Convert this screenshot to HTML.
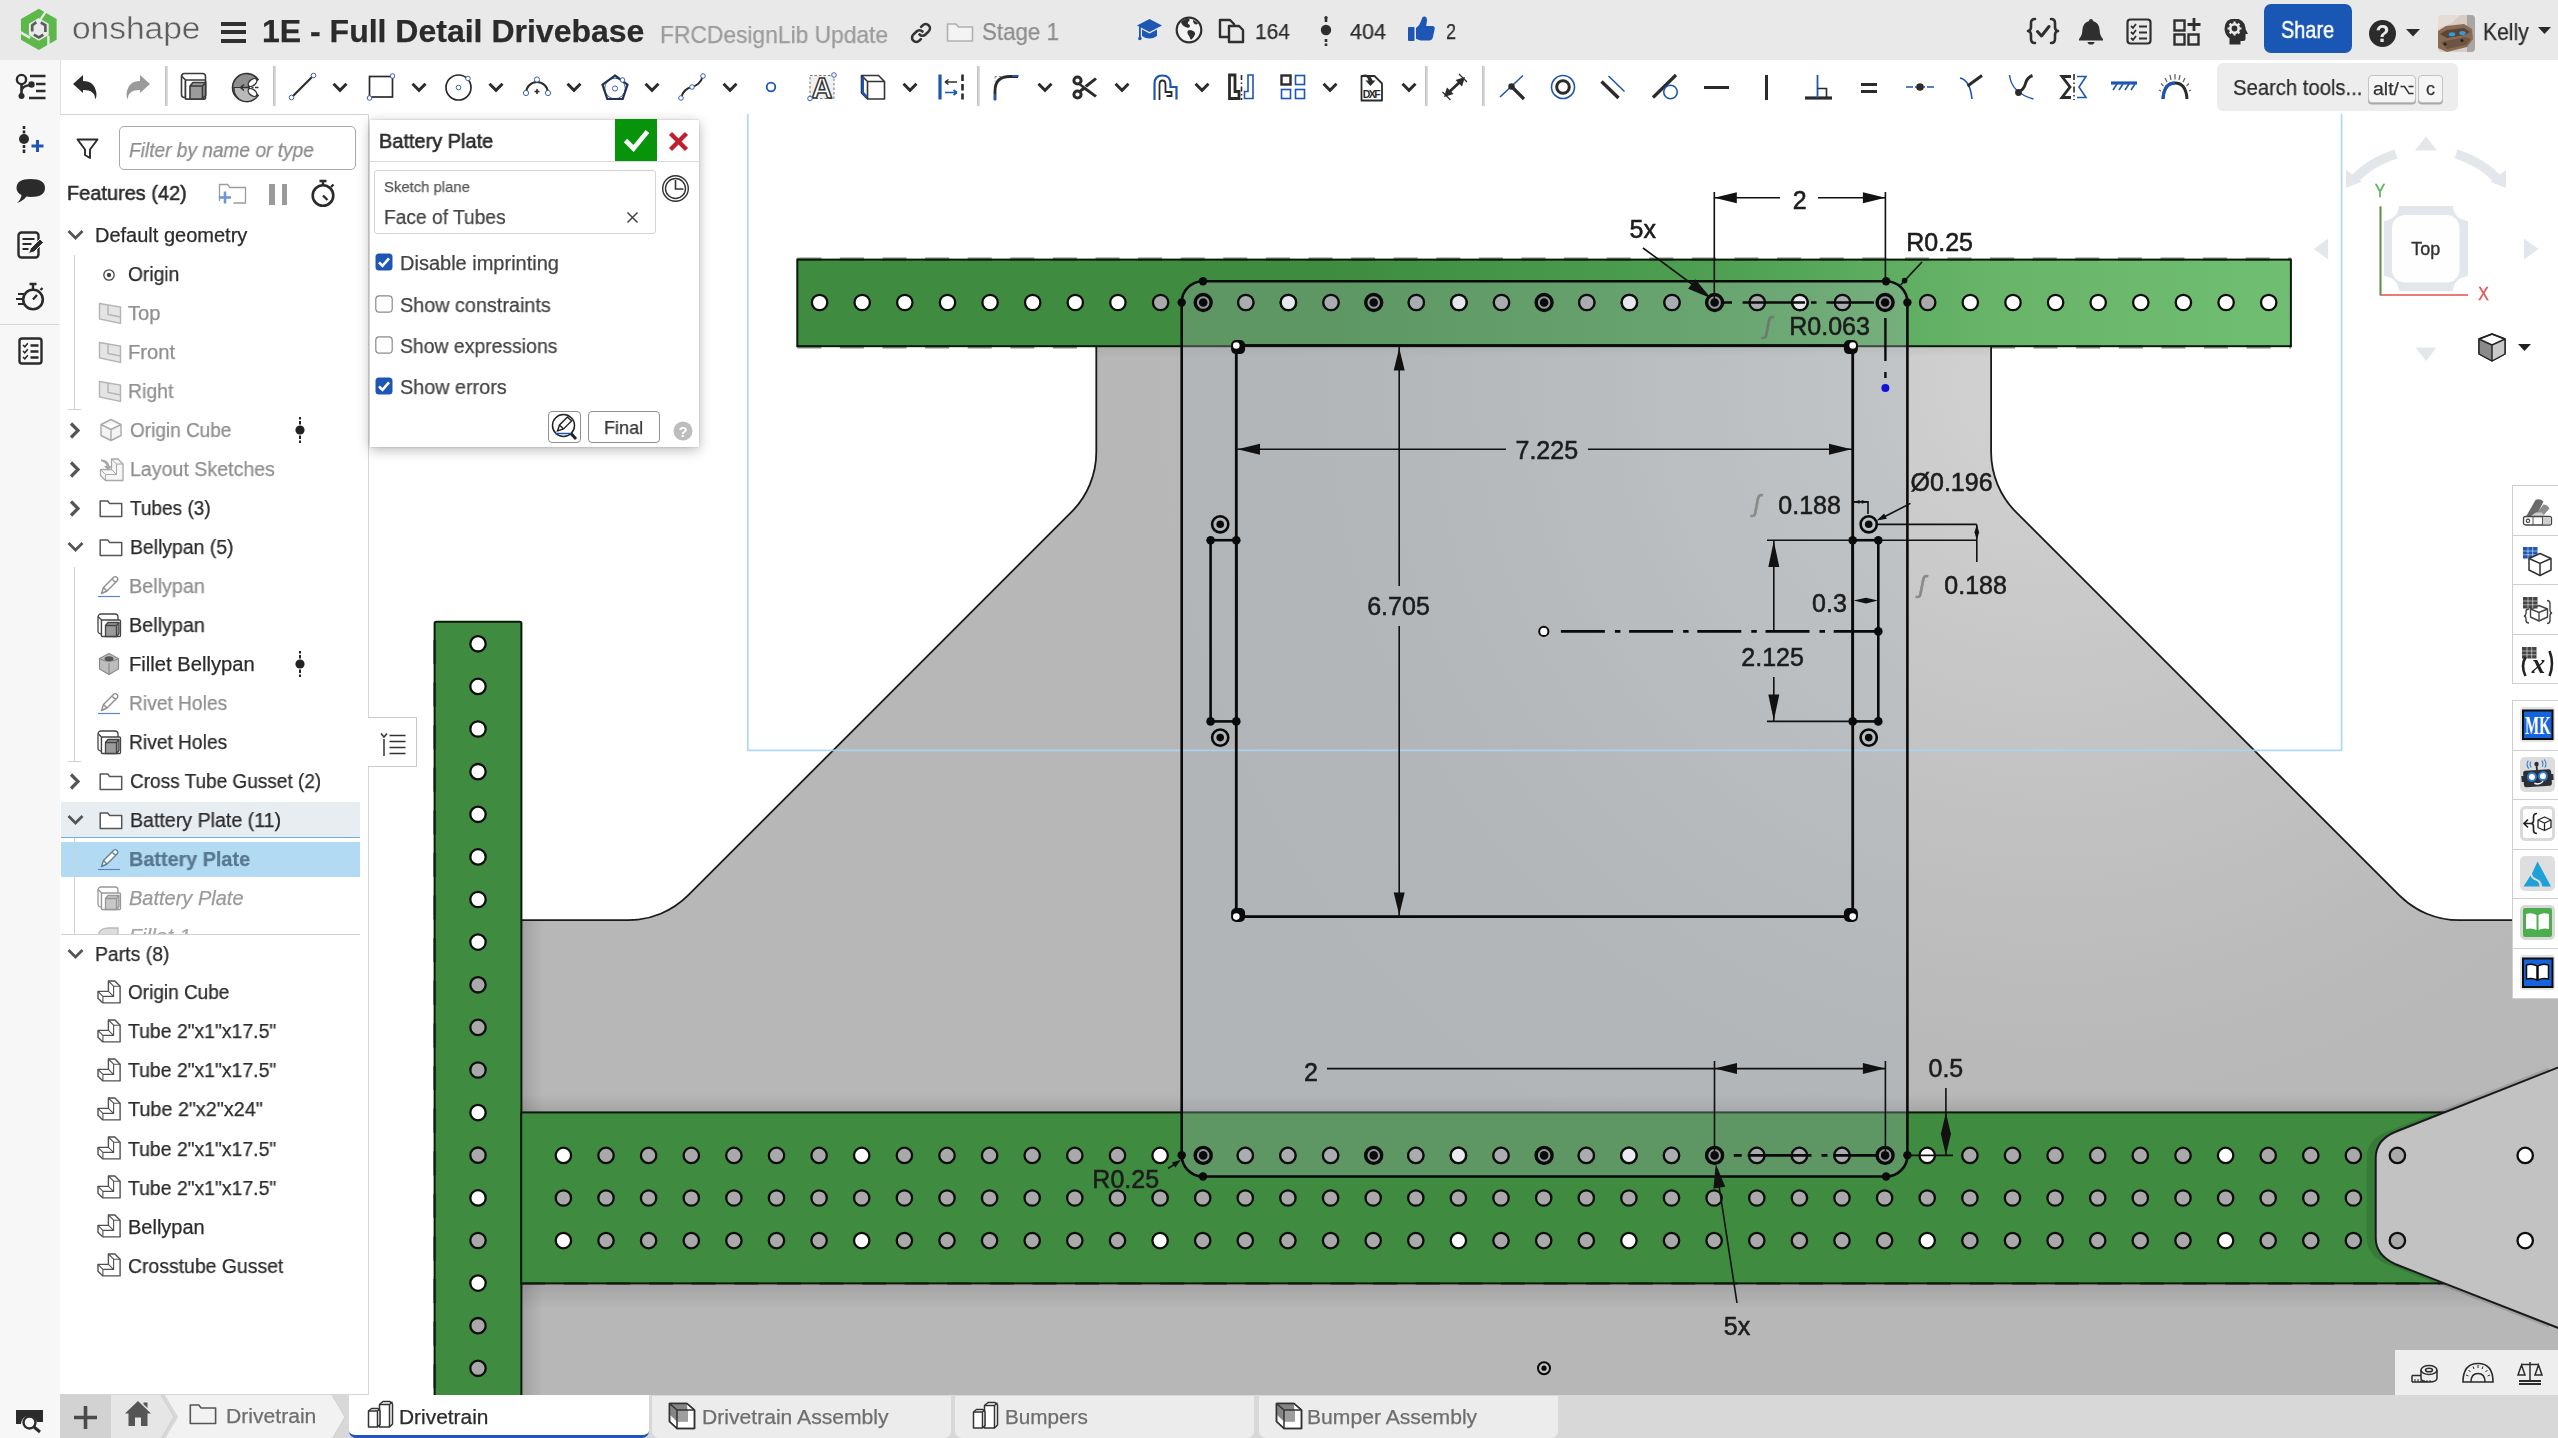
<!DOCTYPE html>
<html><head><meta charset="utf-8"><title>Onshape - Drivetrain</title>
<style>
html,body{margin:0;padding:0;background:#fff;}
body{width:2558px;height:1438px;overflow:hidden;position:relative;font-family:"Liberation Sans",sans-serif;}
.b{position:absolute;display:block;}
.t{position:absolute;white-space:nowrap;transform-origin:0 50%;display:block;-webkit-text-stroke:.25px currentColor;will-change:transform;}
svg{overflow:visible;}
</style></head>
<body>
<svg width="2558" height="1438" viewBox="0 0 2558 1438" style="position:absolute;left:0;top:0;will-change:transform" font-family="Liberation Sans, sans-serif">
<defs>
<linearGradient id="gtop" x1="797" x2="2291" y1="0" y2="0" gradientUnits="userSpaceOnUse">
<stop offset="0" stop-color="#3f8c40"/><stop offset="0.36" stop-color="#3f8c40"/><stop offset="0.62" stop-color="#4fa052"/><stop offset="0.8" stop-color="#68b56a"/><stop offset="1" stop-color="#70be72"/></linearGradient>
<radialGradient id="ggray" cx="2050" cy="380" r="900" gradientUnits="userSpaceOnUse">
<stop offset="0" stop-color="#d3d3d3"/><stop offset="0.35" stop-color="#c6c6c6"/><stop offset="0.75" stop-color="#b9b9b9"/><stop offset="1" stop-color="#b7b7b7"/></radialGradient>
<linearGradient id="shv" x1="0" x2="0" y1="0" y2="1"><stop offset="0" stop-color="#000" stop-opacity="0.11"/><stop offset="1" stop-color="#000" stop-opacity="0"/></linearGradient>
<linearGradient id="shh" x1="0" x2="1" y1="0" y2="0"><stop offset="0" stop-color="#000" stop-opacity="0.13"/><stop offset="1" stop-color="#000" stop-opacity="0"/></linearGradient>
<linearGradient id="shu" x1="0" x2="0" y1="1" y2="0"><stop offset="0" stop-color="#000" stop-opacity="0.10"/><stop offset="1" stop-color="#000" stop-opacity="0"/></linearGradient>
<clipPath id="cv"><rect x="368" y="112" width="2190" height="1283"/></clipPath>
</defs>
<g clip-path="url(#cv)">
<path d="M1096.3,340 L1096.3,452 A85,85 0 0 1 1071.3,512.2 L688.3,895.2 A85,85 0 0 1 628,920.2 L521,920.2 L521,1400 L2575,1400 L2575,920.2 L2459.4,920.2 A85,85 0 0 1 2399.1,895.2 L2016.1,512.2 A85,85 0 0 1 1991.1,452 L1991.1,340 Z" fill="url(#ggray)" stroke="#1a1a1a" stroke-width="1.8"/>
<rect x="521" y="1283" width="2040" height="26" fill="url(#shv)"/>
<rect x="521" y="920" width="22" height="192" fill="url(#shh)"/>
<rect x="521" y="1283" width="22" height="120" fill="url(#shh)"/>
<rect x="521" y="1094" width="2040" height="18" fill="url(#shu)"/>
<rect x="1097" y="346" width="894" height="12" fill="url(#shv)" opacity="0.5"/>
<rect x="797.3" y="259.6" width="1493.6" height="86.6" fill="url(#gtop)" stroke="#0c1a0c" stroke-width="2"/>
<path d="M797.3,259 H2291 M797.3,346.8 H1096 M1991,346.8 H2291" stroke="#0c1a0c" stroke-width="3.2" stroke-dasharray="24,18.6" fill="none" opacity="0.5"/>
<rect x="434.6" y="621.8" width="86.8" height="800" rx="1.5" fill="#3f8c40" stroke="#0c1a0c" stroke-width="2"/>
<rect x="521.2" y="1112.4" width="1950" height="171" fill="#3f8c40" stroke="#0c1a0c" stroke-width="2"/>
<path d="M521.2,1283.6 H2440 M434.6,640 V1395" stroke="#0c1a0c" stroke-width="3" stroke-dasharray="24,18.6" fill="none" opacity="0.45"/>
<path d="M2558,1067.5 L2395,1132 Q2375.7,1140 2375.7,1158 L2375.7,1238 Q2375.7,1255 2395,1264 L2558,1327.8 L2558,1400 Z" fill="#000" opacity="0.12" transform="translate(-9,0)"/>
<path d="M2570,1062.7 L2395,1132 Q2375.7,1140 2375.7,1158 L2375.7,1238 Q2375.7,1255 2395,1264 L2570,1332.5 Z" fill="#c2c2c2" stroke="#1a1a1a" stroke-width="2"/>
<circle cx="819.6" cy="302.5" r="7.7" fill="#fff" stroke="#0d0d0d" stroke-width="2.3"/>
<circle cx="862.2" cy="302.5" r="7.7" fill="#fff" stroke="#0d0d0d" stroke-width="2.3"/>
<circle cx="904.8" cy="302.5" r="7.7" fill="#fff" stroke="#0d0d0d" stroke-width="2.3"/>
<circle cx="947.5" cy="302.5" r="7.7" fill="#fff" stroke="#0d0d0d" stroke-width="2.3"/>
<circle cx="990.1" cy="302.5" r="7.7" fill="#fff" stroke="#0d0d0d" stroke-width="2.3"/>
<circle cx="1032.7" cy="302.5" r="7.7" fill="#fff" stroke="#0d0d0d" stroke-width="2.3"/>
<circle cx="1075.3" cy="302.5" r="7.7" fill="#fff" stroke="#0d0d0d" stroke-width="2.3"/>
<circle cx="1117.9" cy="302.5" r="7.7" fill="#fff" stroke="#0d0d0d" stroke-width="2.3"/>
<circle cx="1160.6" cy="302.5" r="7.7" fill="#a9a9a9" stroke="#0d0d0d" stroke-width="2.3"/>
<circle cx="1203.2" cy="302.5" r="7.7" fill="#a9a9a9" stroke="#0d0d0d" stroke-width="2.3"/>
<circle cx="1245.8" cy="302.5" r="7.7" fill="#a9a9a9" stroke="#0d0d0d" stroke-width="2.3"/>
<circle cx="1288.4" cy="302.5" r="7.7" fill="#a9a9a9" stroke="#0d0d0d" stroke-width="2.3"/>
<circle cx="1331" cy="302.5" r="7.7" fill="#a9a9a9" stroke="#0d0d0d" stroke-width="2.3"/>
<circle cx="1373.7" cy="302.5" r="7.7" fill="#a9a9a9" stroke="#0d0d0d" stroke-width="2.3"/>
<circle cx="1416.3" cy="302.5" r="7.7" fill="#a9a9a9" stroke="#0d0d0d" stroke-width="2.3"/>
<circle cx="1458.9" cy="302.5" r="7.7" fill="#a9a9a9" stroke="#0d0d0d" stroke-width="2.3"/>
<circle cx="1501.5" cy="302.5" r="7.7" fill="#a9a9a9" stroke="#0d0d0d" stroke-width="2.3"/>
<circle cx="1544.1" cy="302.5" r="7.7" fill="#a9a9a9" stroke="#0d0d0d" stroke-width="2.3"/>
<circle cx="1586.8" cy="302.5" r="7.7" fill="#a9a9a9" stroke="#0d0d0d" stroke-width="2.3"/>
<circle cx="1629.4" cy="302.5" r="7.7" fill="#a9a9a9" stroke="#0d0d0d" stroke-width="2.3"/>
<circle cx="1672" cy="302.5" r="7.7" fill="#a9a9a9" stroke="#0d0d0d" stroke-width="2.3"/>
<circle cx="1714.6" cy="302.5" r="7.7" fill="#a9a9a9" stroke="#0d0d0d" stroke-width="2.3"/>
<circle cx="1757.2" cy="302.5" r="7.7" fill="#a9a9a9" stroke="#0d0d0d" stroke-width="2.3"/>
<circle cx="1799.9" cy="302.5" r="7.7" fill="#a9a9a9" stroke="#0d0d0d" stroke-width="2.3"/>
<circle cx="1842.5" cy="302.5" r="7.7" fill="#a9a9a9" stroke="#0d0d0d" stroke-width="2.3"/>
<circle cx="1885.1" cy="302.5" r="7.7" fill="#a9a9a9" stroke="#0d0d0d" stroke-width="2.3"/>
<circle cx="1927.7" cy="302.5" r="7.7" fill="#a9a9a9" stroke="#0d0d0d" stroke-width="2.3"/>
<circle cx="1970.3" cy="302.5" r="7.7" fill="#fff" stroke="#0d0d0d" stroke-width="2.3"/>
<circle cx="2013" cy="302.5" r="7.7" fill="#fff" stroke="#0d0d0d" stroke-width="2.3"/>
<circle cx="2055.6" cy="302.5" r="7.7" fill="#fff" stroke="#0d0d0d" stroke-width="2.3"/>
<circle cx="2098.2" cy="302.5" r="7.7" fill="#fff" stroke="#0d0d0d" stroke-width="2.3"/>
<circle cx="2140.8" cy="302.5" r="7.7" fill="#fff" stroke="#0d0d0d" stroke-width="2.3"/>
<circle cx="2183.4" cy="302.5" r="7.7" fill="#fff" stroke="#0d0d0d" stroke-width="2.3"/>
<circle cx="2226.1" cy="302.5" r="7.7" fill="#fff" stroke="#0d0d0d" stroke-width="2.3"/>
<circle cx="2268.7" cy="302.5" r="7.7" fill="#fff" stroke="#0d0d0d" stroke-width="2.3"/>
<circle cx="478" cy="643.8" r="7.7" fill="#fff" stroke="#0d0d0d" stroke-width="2.3"/>
<circle cx="478" cy="686.4" r="7.7" fill="#fff" stroke="#0d0d0d" stroke-width="2.3"/>
<circle cx="478" cy="729" r="7.7" fill="#fff" stroke="#0d0d0d" stroke-width="2.3"/>
<circle cx="478" cy="771.7" r="7.7" fill="#fff" stroke="#0d0d0d" stroke-width="2.3"/>
<circle cx="478" cy="814.3" r="7.7" fill="#fff" stroke="#0d0d0d" stroke-width="2.3"/>
<circle cx="478" cy="856.9" r="7.7" fill="#fff" stroke="#0d0d0d" stroke-width="2.3"/>
<circle cx="478" cy="899.5" r="7.7" fill="#fff" stroke="#0d0d0d" stroke-width="2.3"/>
<circle cx="478" cy="942.1" r="7.7" fill="#fff" stroke="#0d0d0d" stroke-width="2.3"/>
<circle cx="478" cy="984.8" r="7.7" fill="#a9a9a9" stroke="#0d0d0d" stroke-width="2.3"/>
<circle cx="478" cy="1027.4" r="7.7" fill="#a9a9a9" stroke="#0d0d0d" stroke-width="2.3"/>
<circle cx="478" cy="1070" r="7.7" fill="#a9a9a9" stroke="#0d0d0d" stroke-width="2.3"/>
<circle cx="478" cy="1112.6" r="7.7" fill="#fff" stroke="#0d0d0d" stroke-width="2.3"/>
<circle cx="478" cy="1155.2" r="7.7" fill="#a9a9a9" stroke="#0d0d0d" stroke-width="2.3"/>
<circle cx="478" cy="1197.9" r="7.7" fill="#fff" stroke="#0d0d0d" stroke-width="2.3"/>
<circle cx="478" cy="1240.5" r="7.7" fill="#a9a9a9" stroke="#0d0d0d" stroke-width="2.3"/>
<circle cx="478" cy="1283.1" r="7.7" fill="#fff" stroke="#0d0d0d" stroke-width="2.3"/>
<circle cx="478" cy="1325.7" r="7.7" fill="#a9a9a9" stroke="#0d0d0d" stroke-width="2.3"/>
<circle cx="478" cy="1368.3" r="7.7" fill="#a9a9a9" stroke="#0d0d0d" stroke-width="2.3"/>
<circle cx="563.4" cy="1155.4" r="7.7" fill="#fff" stroke="#0d0d0d" stroke-width="2.3"/>
<circle cx="606" cy="1155.4" r="7.7" fill="#a9a9a9" stroke="#0d0d0d" stroke-width="2.3"/>
<circle cx="648.6" cy="1155.4" r="7.7" fill="#a9a9a9" stroke="#0d0d0d" stroke-width="2.3"/>
<circle cx="691.3" cy="1155.4" r="7.7" fill="#a9a9a9" stroke="#0d0d0d" stroke-width="2.3"/>
<circle cx="733.9" cy="1155.4" r="7.7" fill="#a9a9a9" stroke="#0d0d0d" stroke-width="2.3"/>
<circle cx="776.5" cy="1155.4" r="7.7" fill="#a9a9a9" stroke="#0d0d0d" stroke-width="2.3"/>
<circle cx="819.1" cy="1155.4" r="7.7" fill="#a9a9a9" stroke="#0d0d0d" stroke-width="2.3"/>
<circle cx="861.7" cy="1155.4" r="7.7" fill="#fff" stroke="#0d0d0d" stroke-width="2.3"/>
<circle cx="904.4" cy="1155.4" r="7.7" fill="#a9a9a9" stroke="#0d0d0d" stroke-width="2.3"/>
<circle cx="947" cy="1155.4" r="7.7" fill="#a9a9a9" stroke="#0d0d0d" stroke-width="2.3"/>
<circle cx="989.6" cy="1155.4" r="7.7" fill="#a9a9a9" stroke="#0d0d0d" stroke-width="2.3"/>
<circle cx="1032.2" cy="1155.4" r="7.7" fill="#a9a9a9" stroke="#0d0d0d" stroke-width="2.3"/>
<circle cx="1074.8" cy="1155.4" r="7.7" fill="#a9a9a9" stroke="#0d0d0d" stroke-width="2.3"/>
<circle cx="1117.5" cy="1155.4" r="7.7" fill="#a9a9a9" stroke="#0d0d0d" stroke-width="2.3"/>
<circle cx="1160.1" cy="1155.4" r="7.7" fill="#fff" stroke="#0d0d0d" stroke-width="2.3"/>
<circle cx="1202.7" cy="1155.4" r="7.7" fill="#a9a9a9" stroke="#0d0d0d" stroke-width="2.3"/>
<circle cx="1245.3" cy="1155.4" r="7.7" fill="#a9a9a9" stroke="#0d0d0d" stroke-width="2.3"/>
<circle cx="1287.9" cy="1155.4" r="7.7" fill="#a9a9a9" stroke="#0d0d0d" stroke-width="2.3"/>
<circle cx="1330.6" cy="1155.4" r="7.7" fill="#a9a9a9" stroke="#0d0d0d" stroke-width="2.3"/>
<circle cx="1373.2" cy="1155.4" r="7.7" fill="#a9a9a9" stroke="#0d0d0d" stroke-width="2.3"/>
<circle cx="1415.8" cy="1155.4" r="7.7" fill="#a9a9a9" stroke="#0d0d0d" stroke-width="2.3"/>
<circle cx="1458.4" cy="1155.4" r="7.7" fill="#fff" stroke="#0d0d0d" stroke-width="2.3"/>
<circle cx="1501" cy="1155.4" r="7.7" fill="#a9a9a9" stroke="#0d0d0d" stroke-width="2.3"/>
<circle cx="1543.7" cy="1155.4" r="7.7" fill="#a9a9a9" stroke="#0d0d0d" stroke-width="2.3"/>
<circle cx="1586.3" cy="1155.4" r="7.7" fill="#a9a9a9" stroke="#0d0d0d" stroke-width="2.3"/>
<circle cx="1628.9" cy="1155.4" r="7.7" fill="#fff" stroke="#0d0d0d" stroke-width="2.3"/>
<circle cx="1671.5" cy="1155.4" r="7.7" fill="#a9a9a9" stroke="#0d0d0d" stroke-width="2.3"/>
<circle cx="1714.1" cy="1155.4" r="7.7" fill="#a9a9a9" stroke="#0d0d0d" stroke-width="2.3"/>
<circle cx="1756.8" cy="1155.4" r="7.7" fill="#a9a9a9" stroke="#0d0d0d" stroke-width="2.3"/>
<circle cx="1799.4" cy="1155.4" r="7.7" fill="#a9a9a9" stroke="#0d0d0d" stroke-width="2.3"/>
<circle cx="1842" cy="1155.4" r="7.7" fill="#a9a9a9" stroke="#0d0d0d" stroke-width="2.3"/>
<circle cx="1884.6" cy="1155.4" r="7.7" fill="#a9a9a9" stroke="#0d0d0d" stroke-width="2.3"/>
<circle cx="1927.2" cy="1155.4" r="7.7" fill="#fff" stroke="#0d0d0d" stroke-width="2.3"/>
<circle cx="1969.9" cy="1155.4" r="7.7" fill="#a9a9a9" stroke="#0d0d0d" stroke-width="2.3"/>
<circle cx="2012.5" cy="1155.4" r="7.7" fill="#a9a9a9" stroke="#0d0d0d" stroke-width="2.3"/>
<circle cx="2055.1" cy="1155.4" r="7.7" fill="#a9a9a9" stroke="#0d0d0d" stroke-width="2.3"/>
<circle cx="2097.7" cy="1155.4" r="7.7" fill="#a9a9a9" stroke="#0d0d0d" stroke-width="2.3"/>
<circle cx="2140.3" cy="1155.4" r="7.7" fill="#a9a9a9" stroke="#0d0d0d" stroke-width="2.3"/>
<circle cx="2183" cy="1155.4" r="7.7" fill="#a9a9a9" stroke="#0d0d0d" stroke-width="2.3"/>
<circle cx="2225.6" cy="1155.4" r="7.7" fill="#fff" stroke="#0d0d0d" stroke-width="2.3"/>
<circle cx="2268.2" cy="1155.4" r="7.7" fill="#a9a9a9" stroke="#0d0d0d" stroke-width="2.3"/>
<circle cx="2310.8" cy="1155.4" r="7.7" fill="#a9a9a9" stroke="#0d0d0d" stroke-width="2.3"/>
<circle cx="2353.4" cy="1155.4" r="7.7" fill="#a9a9a9" stroke="#0d0d0d" stroke-width="2.3"/>
<circle cx="563.4" cy="1198" r="7.7" fill="#a9a9a9" stroke="#0d0d0d" stroke-width="2.3"/>
<circle cx="606" cy="1198" r="7.7" fill="#a9a9a9" stroke="#0d0d0d" stroke-width="2.3"/>
<circle cx="648.6" cy="1198" r="7.7" fill="#a9a9a9" stroke="#0d0d0d" stroke-width="2.3"/>
<circle cx="691.3" cy="1198" r="7.7" fill="#a9a9a9" stroke="#0d0d0d" stroke-width="2.3"/>
<circle cx="733.9" cy="1198" r="7.7" fill="#a9a9a9" stroke="#0d0d0d" stroke-width="2.3"/>
<circle cx="776.5" cy="1198" r="7.7" fill="#a9a9a9" stroke="#0d0d0d" stroke-width="2.3"/>
<circle cx="819.1" cy="1198" r="7.7" fill="#a9a9a9" stroke="#0d0d0d" stroke-width="2.3"/>
<circle cx="861.7" cy="1198" r="7.7" fill="#a9a9a9" stroke="#0d0d0d" stroke-width="2.3"/>
<circle cx="904.4" cy="1198" r="7.7" fill="#a9a9a9" stroke="#0d0d0d" stroke-width="2.3"/>
<circle cx="947" cy="1198" r="7.7" fill="#a9a9a9" stroke="#0d0d0d" stroke-width="2.3"/>
<circle cx="989.6" cy="1198" r="7.7" fill="#a9a9a9" stroke="#0d0d0d" stroke-width="2.3"/>
<circle cx="1032.2" cy="1198" r="7.7" fill="#a9a9a9" stroke="#0d0d0d" stroke-width="2.3"/>
<circle cx="1074.8" cy="1198" r="7.7" fill="#a9a9a9" stroke="#0d0d0d" stroke-width="2.3"/>
<circle cx="1117.5" cy="1198" r="7.7" fill="#a9a9a9" stroke="#0d0d0d" stroke-width="2.3"/>
<circle cx="1160.1" cy="1198" r="7.7" fill="#a9a9a9" stroke="#0d0d0d" stroke-width="2.3"/>
<circle cx="1202.7" cy="1198" r="7.7" fill="#a9a9a9" stroke="#0d0d0d" stroke-width="2.3"/>
<circle cx="1245.3" cy="1198" r="7.7" fill="#a9a9a9" stroke="#0d0d0d" stroke-width="2.3"/>
<circle cx="1287.9" cy="1198" r="7.7" fill="#a9a9a9" stroke="#0d0d0d" stroke-width="2.3"/>
<circle cx="1330.6" cy="1198" r="7.7" fill="#a9a9a9" stroke="#0d0d0d" stroke-width="2.3"/>
<circle cx="1373.2" cy="1198" r="7.7" fill="#a9a9a9" stroke="#0d0d0d" stroke-width="2.3"/>
<circle cx="1415.8" cy="1198" r="7.7" fill="#a9a9a9" stroke="#0d0d0d" stroke-width="2.3"/>
<circle cx="1458.4" cy="1198" r="7.7" fill="#a9a9a9" stroke="#0d0d0d" stroke-width="2.3"/>
<circle cx="1501" cy="1198" r="7.7" fill="#a9a9a9" stroke="#0d0d0d" stroke-width="2.3"/>
<circle cx="1543.7" cy="1198" r="7.7" fill="#a9a9a9" stroke="#0d0d0d" stroke-width="2.3"/>
<circle cx="1586.3" cy="1198" r="7.7" fill="#a9a9a9" stroke="#0d0d0d" stroke-width="2.3"/>
<circle cx="1628.9" cy="1198" r="7.7" fill="#a9a9a9" stroke="#0d0d0d" stroke-width="2.3"/>
<circle cx="1671.5" cy="1198" r="7.7" fill="#a9a9a9" stroke="#0d0d0d" stroke-width="2.3"/>
<circle cx="1714.1" cy="1198" r="7.7" fill="#a9a9a9" stroke="#0d0d0d" stroke-width="2.3"/>
<circle cx="1756.8" cy="1198" r="7.7" fill="#a9a9a9" stroke="#0d0d0d" stroke-width="2.3"/>
<circle cx="1799.4" cy="1198" r="7.7" fill="#a9a9a9" stroke="#0d0d0d" stroke-width="2.3"/>
<circle cx="1842" cy="1198" r="7.7" fill="#a9a9a9" stroke="#0d0d0d" stroke-width="2.3"/>
<circle cx="1884.6" cy="1198" r="7.7" fill="#a9a9a9" stroke="#0d0d0d" stroke-width="2.3"/>
<circle cx="1927.2" cy="1198" r="7.7" fill="#a9a9a9" stroke="#0d0d0d" stroke-width="2.3"/>
<circle cx="1969.9" cy="1198" r="7.7" fill="#a9a9a9" stroke="#0d0d0d" stroke-width="2.3"/>
<circle cx="2012.5" cy="1198" r="7.7" fill="#a9a9a9" stroke="#0d0d0d" stroke-width="2.3"/>
<circle cx="2055.1" cy="1198" r="7.7" fill="#a9a9a9" stroke="#0d0d0d" stroke-width="2.3"/>
<circle cx="2097.7" cy="1198" r="7.7" fill="#a9a9a9" stroke="#0d0d0d" stroke-width="2.3"/>
<circle cx="2140.3" cy="1198" r="7.7" fill="#a9a9a9" stroke="#0d0d0d" stroke-width="2.3"/>
<circle cx="2183" cy="1198" r="7.7" fill="#a9a9a9" stroke="#0d0d0d" stroke-width="2.3"/>
<circle cx="2225.6" cy="1198" r="7.7" fill="#a9a9a9" stroke="#0d0d0d" stroke-width="2.3"/>
<circle cx="2268.2" cy="1198" r="7.7" fill="#a9a9a9" stroke="#0d0d0d" stroke-width="2.3"/>
<circle cx="2310.8" cy="1198" r="7.7" fill="#a9a9a9" stroke="#0d0d0d" stroke-width="2.3"/>
<circle cx="2353.4" cy="1198" r="7.7" fill="#a9a9a9" stroke="#0d0d0d" stroke-width="2.3"/>
<circle cx="563.4" cy="1240.6" r="7.7" fill="#fff" stroke="#0d0d0d" stroke-width="2.3"/>
<circle cx="606" cy="1240.6" r="7.7" fill="#a9a9a9" stroke="#0d0d0d" stroke-width="2.3"/>
<circle cx="648.6" cy="1240.6" r="7.7" fill="#a9a9a9" stroke="#0d0d0d" stroke-width="2.3"/>
<circle cx="691.3" cy="1240.6" r="7.7" fill="#a9a9a9" stroke="#0d0d0d" stroke-width="2.3"/>
<circle cx="733.9" cy="1240.6" r="7.7" fill="#a9a9a9" stroke="#0d0d0d" stroke-width="2.3"/>
<circle cx="776.5" cy="1240.6" r="7.7" fill="#a9a9a9" stroke="#0d0d0d" stroke-width="2.3"/>
<circle cx="819.1" cy="1240.6" r="7.7" fill="#a9a9a9" stroke="#0d0d0d" stroke-width="2.3"/>
<circle cx="861.7" cy="1240.6" r="7.7" fill="#fff" stroke="#0d0d0d" stroke-width="2.3"/>
<circle cx="904.4" cy="1240.6" r="7.7" fill="#a9a9a9" stroke="#0d0d0d" stroke-width="2.3"/>
<circle cx="947" cy="1240.6" r="7.7" fill="#a9a9a9" stroke="#0d0d0d" stroke-width="2.3"/>
<circle cx="989.6" cy="1240.6" r="7.7" fill="#a9a9a9" stroke="#0d0d0d" stroke-width="2.3"/>
<circle cx="1032.2" cy="1240.6" r="7.7" fill="#a9a9a9" stroke="#0d0d0d" stroke-width="2.3"/>
<circle cx="1074.8" cy="1240.6" r="7.7" fill="#a9a9a9" stroke="#0d0d0d" stroke-width="2.3"/>
<circle cx="1117.5" cy="1240.6" r="7.7" fill="#a9a9a9" stroke="#0d0d0d" stroke-width="2.3"/>
<circle cx="1160.1" cy="1240.6" r="7.7" fill="#fff" stroke="#0d0d0d" stroke-width="2.3"/>
<circle cx="1202.7" cy="1240.6" r="7.7" fill="#a9a9a9" stroke="#0d0d0d" stroke-width="2.3"/>
<circle cx="1245.3" cy="1240.6" r="7.7" fill="#a9a9a9" stroke="#0d0d0d" stroke-width="2.3"/>
<circle cx="1287.9" cy="1240.6" r="7.7" fill="#a9a9a9" stroke="#0d0d0d" stroke-width="2.3"/>
<circle cx="1330.6" cy="1240.6" r="7.7" fill="#a9a9a9" stroke="#0d0d0d" stroke-width="2.3"/>
<circle cx="1373.2" cy="1240.6" r="7.7" fill="#a9a9a9" stroke="#0d0d0d" stroke-width="2.3"/>
<circle cx="1415.8" cy="1240.6" r="7.7" fill="#a9a9a9" stroke="#0d0d0d" stroke-width="2.3"/>
<circle cx="1458.4" cy="1240.6" r="7.7" fill="#fff" stroke="#0d0d0d" stroke-width="2.3"/>
<circle cx="1501" cy="1240.6" r="7.7" fill="#a9a9a9" stroke="#0d0d0d" stroke-width="2.3"/>
<circle cx="1543.7" cy="1240.6" r="7.7" fill="#a9a9a9" stroke="#0d0d0d" stroke-width="2.3"/>
<circle cx="1586.3" cy="1240.6" r="7.7" fill="#a9a9a9" stroke="#0d0d0d" stroke-width="2.3"/>
<circle cx="1628.9" cy="1240.6" r="7.7" fill="#fff" stroke="#0d0d0d" stroke-width="2.3"/>
<circle cx="1671.5" cy="1240.6" r="7.7" fill="#a9a9a9" stroke="#0d0d0d" stroke-width="2.3"/>
<circle cx="1714.1" cy="1240.6" r="7.7" fill="#a9a9a9" stroke="#0d0d0d" stroke-width="2.3"/>
<circle cx="1756.8" cy="1240.6" r="7.7" fill="#a9a9a9" stroke="#0d0d0d" stroke-width="2.3"/>
<circle cx="1799.4" cy="1240.6" r="7.7" fill="#a9a9a9" stroke="#0d0d0d" stroke-width="2.3"/>
<circle cx="1842" cy="1240.6" r="7.7" fill="#a9a9a9" stroke="#0d0d0d" stroke-width="2.3"/>
<circle cx="1884.6" cy="1240.6" r="7.7" fill="#a9a9a9" stroke="#0d0d0d" stroke-width="2.3"/>
<circle cx="1927.2" cy="1240.6" r="7.7" fill="#fff" stroke="#0d0d0d" stroke-width="2.3"/>
<circle cx="1969.9" cy="1240.6" r="7.7" fill="#a9a9a9" stroke="#0d0d0d" stroke-width="2.3"/>
<circle cx="2012.5" cy="1240.6" r="7.7" fill="#a9a9a9" stroke="#0d0d0d" stroke-width="2.3"/>
<circle cx="2055.1" cy="1240.6" r="7.7" fill="#a9a9a9" stroke="#0d0d0d" stroke-width="2.3"/>
<circle cx="2097.7" cy="1240.6" r="7.7" fill="#a9a9a9" stroke="#0d0d0d" stroke-width="2.3"/>
<circle cx="2140.3" cy="1240.6" r="7.7" fill="#a9a9a9" stroke="#0d0d0d" stroke-width="2.3"/>
<circle cx="2183" cy="1240.6" r="7.7" fill="#a9a9a9" stroke="#0d0d0d" stroke-width="2.3"/>
<circle cx="2225.6" cy="1240.6" r="7.7" fill="#fff" stroke="#0d0d0d" stroke-width="2.3"/>
<circle cx="2268.2" cy="1240.6" r="7.7" fill="#a9a9a9" stroke="#0d0d0d" stroke-width="2.3"/>
<circle cx="2310.8" cy="1240.6" r="7.7" fill="#a9a9a9" stroke="#0d0d0d" stroke-width="2.3"/>
<circle cx="2353.4" cy="1240.6" r="7.7" fill="#a9a9a9" stroke="#0d0d0d" stroke-width="2.3"/>
<circle cx="2397.4" cy="1155.4" r="7.7" fill="#a9a9a9" stroke="#0d0d0d" stroke-width="2.3"/>
<circle cx="2397.4" cy="1240.6" r="7.7" fill="#a9a9a9" stroke="#0d0d0d" stroke-width="2.3"/>
<circle cx="2525.2" cy="1155.4" r="7.7" fill="#fff" stroke="#0d0d0d" stroke-width="2.3"/>
<circle cx="2525.2" cy="1240.6" r="7.7" fill="#fff" stroke="#0d0d0d" stroke-width="2.3"/>
<path d="M1203,281.2 H1886.1 A21.3,21.3 0 0 1 1907.4,302.5 V1155.2 A21.3,21.3 0 0 1 1886.1,1176.5 H1203 A21.3,21.3 0 0 1 1181.7,1155.2 V302.5 A21.3,21.3 0 0 1 1203,281.2 Z" fill="#a5b2ba" fill-opacity="0.30"/>
<circle cx="1203.2" cy="302.5" r="7.7" fill="#a9adb0" stroke="#0d0d0d" stroke-width="2.3"/>
<circle cx="1245.8" cy="302.5" r="7.7" fill="#a9adb0" stroke="#0d0d0d" stroke-width="2.3"/>
<circle cx="1288.4" cy="302.5" r="7.7" fill="#a9adb0" stroke="#0d0d0d" stroke-width="2.3"/>
<circle cx="1331" cy="302.5" r="7.7" fill="#a9adb0" stroke="#0d0d0d" stroke-width="2.3"/>
<circle cx="1373.7" cy="302.5" r="7.7" fill="#a9adb0" stroke="#0d0d0d" stroke-width="2.3"/>
<circle cx="1416.3" cy="302.5" r="7.7" fill="#a9adb0" stroke="#0d0d0d" stroke-width="2.3"/>
<circle cx="1458.9" cy="302.5" r="7.7" fill="#a9adb0" stroke="#0d0d0d" stroke-width="2.3"/>
<circle cx="1501.5" cy="302.5" r="7.7" fill="#a9adb0" stroke="#0d0d0d" stroke-width="2.3"/>
<circle cx="1544.1" cy="302.5" r="7.7" fill="#a9adb0" stroke="#0d0d0d" stroke-width="2.3"/>
<circle cx="1586.8" cy="302.5" r="7.7" fill="#a9adb0" stroke="#0d0d0d" stroke-width="2.3"/>
<circle cx="1629.4" cy="302.5" r="7.7" fill="#a9adb0" stroke="#0d0d0d" stroke-width="2.3"/>
<circle cx="1672" cy="302.5" r="7.7" fill="#a9adb0" stroke="#0d0d0d" stroke-width="2.3"/>
<circle cx="1714.6" cy="302.5" r="7.7" fill="#a9adb0" stroke="#0d0d0d" stroke-width="2.3"/>
<circle cx="1757.2" cy="302.5" r="7.7" fill="#a9adb0" stroke="#0d0d0d" stroke-width="2.3"/>
<circle cx="1799.9" cy="302.5" r="7.7" fill="#a9adb0" stroke="#0d0d0d" stroke-width="2.3"/>
<circle cx="1842.5" cy="302.5" r="7.7" fill="#a9adb0" stroke="#0d0d0d" stroke-width="2.3"/>
<circle cx="1885.1" cy="302.5" r="7.7" fill="#a9adb0" stroke="#0d0d0d" stroke-width="2.3"/>
<circle cx="1202.7" cy="1155.4" r="7.7" fill="#a9adb0" stroke="#0d0d0d" stroke-width="2.3"/>
<circle cx="1245.3" cy="1155.4" r="7.7" fill="#a9adb0" stroke="#0d0d0d" stroke-width="2.3"/>
<circle cx="1287.9" cy="1155.4" r="7.7" fill="#a9adb0" stroke="#0d0d0d" stroke-width="2.3"/>
<circle cx="1330.6" cy="1155.4" r="7.7" fill="#a9adb0" stroke="#0d0d0d" stroke-width="2.3"/>
<circle cx="1373.2" cy="1155.4" r="7.7" fill="#a9adb0" stroke="#0d0d0d" stroke-width="2.3"/>
<circle cx="1415.8" cy="1155.4" r="7.7" fill="#a9adb0" stroke="#0d0d0d" stroke-width="2.3"/>
<circle cx="1458.4" cy="1155.4" r="7.7" fill="#a9adb0" stroke="#0d0d0d" stroke-width="2.3"/>
<circle cx="1501" cy="1155.4" r="7.7" fill="#a9adb0" stroke="#0d0d0d" stroke-width="2.3"/>
<circle cx="1543.7" cy="1155.4" r="7.7" fill="#a9adb0" stroke="#0d0d0d" stroke-width="2.3"/>
<circle cx="1586.3" cy="1155.4" r="7.7" fill="#a9adb0" stroke="#0d0d0d" stroke-width="2.3"/>
<circle cx="1628.9" cy="1155.4" r="7.7" fill="#a9adb0" stroke="#0d0d0d" stroke-width="2.3"/>
<circle cx="1671.5" cy="1155.4" r="7.7" fill="#a9adb0" stroke="#0d0d0d" stroke-width="2.3"/>
<circle cx="1714.1" cy="1155.4" r="7.7" fill="#a9adb0" stroke="#0d0d0d" stroke-width="2.3"/>
<circle cx="1756.8" cy="1155.4" r="7.7" fill="#a9adb0" stroke="#0d0d0d" stroke-width="2.3"/>
<circle cx="1799.4" cy="1155.4" r="7.7" fill="#a9adb0" stroke="#0d0d0d" stroke-width="2.3"/>
<circle cx="1842" cy="1155.4" r="7.7" fill="#a9adb0" stroke="#0d0d0d" stroke-width="2.3"/>
<circle cx="1884.6" cy="1155.4" r="7.7" fill="#a9adb0" stroke="#0d0d0d" stroke-width="2.3"/>
<circle cx="1288.4" cy="302.5" r="7.7" fill="#e6e9eb" stroke="#0d0d0d" stroke-width="2.3"/>
<circle cx="1458.9" cy="302.5" r="7.7" fill="#e6e9eb" stroke="#0d0d0d" stroke-width="2.3"/>
<circle cx="1629.4" cy="302.5" r="7.7" fill="#e6e9eb" stroke="#0d0d0d" stroke-width="2.3"/>
<circle cx="1799.9" cy="302.5" r="7.7" fill="#e6e9eb" stroke="#0d0d0d" stroke-width="2.3"/>
<circle cx="1458.4" cy="1155.4" r="7.7" fill="#e9ecee" stroke="#0d0d0d" stroke-width="2.3"/>
<circle cx="1628.9" cy="1155.4" r="7.7" fill="#e9ecee" stroke="#0d0d0d" stroke-width="2.3"/>
<path d="M747.8,113 V750.4 H2341.6 V113" fill="none" stroke="#a9d4f3" stroke-width="1.8" opacity="0.9"/>
<path d="M1203,281.2 H1886.1 A21.3,21.3 0 0 1 1907.4,302.5 V1155.2 A21.3,21.3 0 0 1 1886.1,1176.5 H1203 A21.3,21.3 0 0 1 1181.7,1155.2 V302.5 A21.3,21.3 0 0 1 1203,281.2 Z" fill="none" stroke="#0a0a0a" stroke-width="2.6"/>
<rect x="1236.3" y="345.5" width="616.4" height="571.1" fill="none" stroke="#0a0a0a" stroke-width="2.8"/>
<rect x="1231.1" y="340.1" width="14" height="14" rx="5" fill="#0a0a0a"/>
<circle cx="1236.3" cy="345.5" r="3.3" fill="#fff"/>
<rect x="1843.9" y="340.1" width="14" height="14" rx="5" fill="#0a0a0a"/>
<circle cx="1852.7" cy="345.5" r="3.3" fill="#fff"/>
<rect x="1231.1" y="908" width="14" height="14" rx="5" fill="#0a0a0a"/>
<circle cx="1236.3" cy="916.6" r="3.3" fill="#fff"/>
<rect x="1843.9" y="908" width="14" height="14" rx="5" fill="#0a0a0a"/>
<circle cx="1852.7" cy="916.6" r="3.3" fill="#fff"/>
<rect x="1210.6" y="540.2" width="25.7" height="181.2" fill="none" stroke="#0a0a0a" stroke-width="2.6"/>
<circle cx="1210.6" cy="540.2" r="4.3" fill="#0a0a0a"/>
<circle cx="1210.6" cy="721.4" r="4.3" fill="#0a0a0a"/>
<circle cx="1236.3" cy="540.2" r="4.3" fill="#0a0a0a"/>
<circle cx="1236.3" cy="721.4" r="4.3" fill="#0a0a0a"/>
<rect x="1852.7" y="540.2" width="25.6" height="181.2" fill="none" stroke="#0a0a0a" stroke-width="2.6"/>
<circle cx="1852.7" cy="540.2" r="4.3" fill="#0a0a0a"/>
<circle cx="1852.7" cy="721.4" r="4.3" fill="#0a0a0a"/>
<circle cx="1878.3" cy="540.2" r="4.3" fill="#0a0a0a"/>
<circle cx="1878.3" cy="721.4" r="4.3" fill="#0a0a0a"/>
<circle cx="1220.2" cy="524.3" r="8.1" fill="none" stroke="#0a0a0a" stroke-width="2.6"/>
<circle cx="1220.2" cy="524.3" r="3.8" fill="#0a0a0a"/>
<circle cx="1220.2" cy="737.6" r="8.1" fill="none" stroke="#0a0a0a" stroke-width="2.6"/>
<circle cx="1220.2" cy="737.6" r="3.8" fill="#0a0a0a"/>
<circle cx="1868.7" cy="524.3" r="8.1" fill="none" stroke="#0a0a0a" stroke-width="2.6"/>
<circle cx="1868.7" cy="524.3" r="3.8" fill="#0a0a0a"/>
<circle cx="1868.7" cy="737.6" r="8.1" fill="none" stroke="#0a0a0a" stroke-width="2.6"/>
<circle cx="1868.7" cy="737.6" r="3.8" fill="#0a0a0a"/>
<circle cx="1203.2" cy="302.5" r="8" fill="#8f9a98" stroke="#0a0a0a" stroke-width="3.4"/>
<circle cx="1203.2" cy="302.5" r="4.3" fill="#0a0a0a"/>
<circle cx="1203.2" cy="1155.4" r="8" fill="#8f9a98" stroke="#0a0a0a" stroke-width="3.4"/>
<circle cx="1203.2" cy="1155.4" r="4.3" fill="#0a0a0a"/>
<circle cx="1373.7" cy="302.5" r="8" fill="#8f9a98" stroke="#0a0a0a" stroke-width="3.4"/>
<circle cx="1373.7" cy="302.5" r="4.3" fill="#0a0a0a"/>
<circle cx="1373.7" cy="1155.4" r="8" fill="#8f9a98" stroke="#0a0a0a" stroke-width="3.4"/>
<circle cx="1373.7" cy="1155.4" r="4.3" fill="#0a0a0a"/>
<circle cx="1544.1" cy="302.5" r="8" fill="#8f9a98" stroke="#0a0a0a" stroke-width="3.4"/>
<circle cx="1544.1" cy="302.5" r="4.3" fill="#0a0a0a"/>
<circle cx="1544.1" cy="1155.4" r="8" fill="#8f9a98" stroke="#0a0a0a" stroke-width="3.4"/>
<circle cx="1544.1" cy="1155.4" r="4.3" fill="#0a0a0a"/>
<circle cx="1714.6" cy="302.5" r="8" fill="#8f9a98" stroke="#0a0a0a" stroke-width="3.4"/>
<circle cx="1714.6" cy="302.5" r="4.3" fill="#0a0a0a"/>
<circle cx="1714.6" cy="1155.4" r="8" fill="#8f9a98" stroke="#0a0a0a" stroke-width="3.4"/>
<circle cx="1714.6" cy="1155.4" r="4.3" fill="#0a0a0a"/>
<circle cx="1885.1" cy="302.5" r="8" fill="#8f9a98" stroke="#0a0a0a" stroke-width="3.4"/>
<circle cx="1885.1" cy="302.5" r="4.3" fill="#0a0a0a"/>
<circle cx="1885.1" cy="1155.4" r="8" fill="#8f9a98" stroke="#0a0a0a" stroke-width="3.4"/>
<circle cx="1885.1" cy="1155.4" r="4.3" fill="#0a0a0a"/>
<circle cx="1203" cy="281.2" r="4.2" fill="#0a0a0a"/>
<circle cx="1181.7" cy="302.5" r="4.2" fill="#0a0a0a"/>
<circle cx="1886.1" cy="281.2" r="4.2" fill="#0a0a0a"/>
<circle cx="1907.4" cy="302.5" r="4.2" fill="#0a0a0a"/>
<circle cx="1181.7" cy="1155.2" r="4.2" fill="#0a0a0a"/>
<circle cx="1203" cy="1176.5" r="4.2" fill="#0a0a0a"/>
<circle cx="1886.1" cy="1176.5" r="4.2" fill="#0a0a0a"/>
<circle cx="1907.4" cy="1155.2" r="4.2" fill="#0a0a0a"/>
<path d="M1724,302.5 H1732 M1742.6,302.5 H1805 M1811,302.5 H1816.5 M1826.4,302.5 H1874" stroke="#0a0a0a" stroke-width="2.6" fill="none"/>
<path d="M1733.8,1155.4 H1741.7 M1747.7,1155.4 H1811.5 M1821.5,1155.4 H1827.5 M1833.5,1155.4 H1876" stroke="#0a0a0a" stroke-width="2.6" fill="none"/>
<path d="M1885.4,318 V361 M1885.4,372 V378" stroke="#0a0a0a" stroke-width="2.4" fill="none"/>
<circle cx="1885.4" cy="387.9" r="4" fill="#1212d8"/>
<path d="M1560.9,631.4 H1878" stroke="#0a0a0a" stroke-width="2.6" stroke-dasharray="44,10,5.5,8.7" fill="none"/>
<circle cx="1543.8" cy="631.4" r="4.6" fill="#fff" stroke="#0a0a0a" stroke-width="2"/>
<circle cx="1878.3" cy="631.4" r="4.3" fill="#0a0a0a"/>
<circle cx="1544" cy="1368.2" r="6" fill="#c4c4c4" stroke="#0a0a0a" stroke-width="2"/>
<circle cx="1544" cy="1368.2" r="2.6" fill="#0a0a0a"/>
<path d="M1714.3,192 V302 M1885.4,192 V281 M1714.3,197.7 H1780 M1818,197.7 H1885.4" stroke="#111" stroke-width="1.6" fill="none"/>
<polygon points="0,0 -22.5,-5.5 -22.5,5.5" fill="#111" transform="translate(1714.3,197.7) rotate(180)"/>
<polygon points="0,0 -22.5,-5.5 -22.5,5.5" fill="#111" transform="translate(1885.4,197.7) rotate(0)"/>
<text x="1799.6" y="208.5" font-size="25" text-anchor="middle" fill="#1c1c1c" stroke="#1c1c1c" stroke-width=".55" >2</text>
<text x="1642.7" y="237.5" font-size="25" text-anchor="middle" fill="#1c1c1c" stroke="#1c1c1c" stroke-width=".55" >5x</text>
<path d="M1643,248 L1706,294.5" stroke="#111" stroke-width="1.6" fill="none"/>
<polygon points="0,0 -24,-6 -24,6" fill="#111" transform="translate(1711,298.3) rotate(36.5)"/>
<text x="1939.6" y="251" font-size="25" text-anchor="middle" fill="#1c1c1c" stroke="#1c1c1c" stroke-width=".55" >R0.25</text>
<path d="M1922,262 L1900.5,285" stroke="#111" stroke-width="1.6" fill="none"/>
<circle cx="1904.6" cy="280.6" r="2.8" fill="#0a0a0a"/>
<text x="1829.6" y="335" font-size="25" text-anchor="middle" fill="#1c1c1c" stroke="#1c1c1c" stroke-width=".55" >R0.063</text>
<text x="1768" y="334" font-size="24" text-anchor="middle" fill="#6d7a6f" stroke="#6d7a6f" stroke-width=".55" font-style="italic">&#643;</text>
<path d="M1236.3,449.3 H1506 M1588,449.3 H1852.7" stroke="#111" stroke-width="1.6" fill="none"/>
<polygon points="0,0 -22.5,-5.5 -22.5,5.5" fill="#111" transform="translate(1237.5,449.3) rotate(180)"/>
<polygon points="0,0 -22.5,-5.5 -22.5,5.5" fill="#111" transform="translate(1851.5,449.3) rotate(0)"/>
<text x="1546.8" y="458.5" font-size="25" text-anchor="middle" fill="#1c1c1c" stroke="#1c1c1c" stroke-width=".55" >7.225</text>
<path d="M1399.2,346.6 V586 M1399.2,626 V916.4" stroke="#111" stroke-width="1.6" fill="none"/>
<polygon points="0,0 -22.5,-5.5 -22.5,5.5" fill="#111" transform="translate(1399.2,348) rotate(-90)"/>
<polygon points="0,0 -22.5,-5.5 -22.5,5.5" fill="#111" transform="translate(1399.2,915) rotate(90)"/>
<text x="1398.5" y="615.3" font-size="25" text-anchor="middle" fill="#1c1c1c" stroke="#1c1c1c" stroke-width=".55" >6.705</text>
<path d="M1767,540.2 H1852 M1767,721.4 H1852 M1773.8,540.2 V631 M1773.8,677 V721.4" stroke="#111" stroke-width="1.6" fill="none"/>
<polygon points="0,0 -26,-5.5 -26,5.5" fill="#111" transform="translate(1773.8,541) rotate(-90)"/>
<polygon points="0,0 -26,-5.5 -26,5.5" fill="#111" transform="translate(1773.8,720.6) rotate(90)"/>
<text x="1772.6" y="666" font-size="25" text-anchor="middle" fill="#1c1c1c" stroke="#1c1c1c" stroke-width=".55" >2.125</text>
<text x="1829.5" y="611.5" font-size="25" text-anchor="middle" fill="#1c1c1c" stroke="#1c1c1c" stroke-width=".55" >0.3</text>
<polygon points="1853.5,600.6 1866,597.7 1878,600.6 1866,603.5" fill="#111"/>
<text x="1809.6" y="513.7" font-size="25" text-anchor="middle" fill="#1c1c1c" stroke="#1c1c1c" stroke-width=".55" >0.188</text>
<text x="1757" y="512" font-size="24" text-anchor="middle" fill="#8a8a8a" stroke="#8a8a8a" stroke-width=".55" font-style="italic">&#643;</text>
<path d="M1853,501.9 H1868 V514" stroke="#111" stroke-width="1.6" fill="none"/>
<polygon points="0,0 -6,-1.8 -6,1.8" fill="#111" transform="translate(1853.6,501.9) rotate(180)"/>
<polygon points="0,0 -6,-1.8 -6,1.8" fill="#111" transform="translate(1867.6,501.9) rotate(0)"/>
<text x="1951.6" y="490.8" font-size="25" text-anchor="middle" fill="#1c1c1c" stroke="#1c1c1c" stroke-width=".55" >&#216;0.196</text>
<path d="M1910.5,503.4 L1880,519" stroke="#111" stroke-width="1.6" fill="none"/>
<polygon points="0,0 -10,-3 -10,3" fill="#111" transform="translate(1876.6,520.6) rotate(153)"/>
<text x="1975.6" y="594" font-size="25" text-anchor="middle" fill="#1c1c1c" stroke="#1c1c1c" stroke-width=".55" >0.188</text>
<text x="1922.3" y="593" font-size="24" text-anchor="middle" fill="#8a8a8a" stroke="#8a8a8a" stroke-width=".55" font-style="italic">&#643;</text>
<path d="M1877,524.4 H1976.8 M1878.3,540.2 H1976.8 M1976.8,524.4 V562" stroke="#111" stroke-width="1.6" fill="none"/>
<polygon points="1976.8,524.5 1979.1,532.3 1976.8,540 1974.5,532.3" fill="#111"/>
<text x="1311" y="1080.5" font-size="25" text-anchor="middle" fill="#1c1c1c" stroke="#1c1c1c" stroke-width=".55" >2</text>
<path d="M1327,1068.6 H1885.4 M1714.5,1061 V1155 M1885.4,1061 V1155" stroke="#111" stroke-width="1.6" fill="none"/>
<polygon points="0,0 -22.5,-5.5 -22.5,5.5" fill="#111" transform="translate(1714.5,1068.6) rotate(180)"/>
<polygon points="0,0 -22.5,-5.5 -22.5,5.5" fill="#111" transform="translate(1885.4,1068.6) rotate(0)"/>
<text x="1945.9" y="1077.3" font-size="25" text-anchor="middle" fill="#1c1c1c" stroke="#1c1c1c" stroke-width=".55" >0.5</text>
<path d="M1945.9,1088 V1155.4 M1908,1155.4 H1953" stroke="#111" stroke-width="1.6" fill="none"/>
<polygon points="0,0 -21.3,-5 -21.3,5" fill="#111" transform="translate(1945.9,1112.6) rotate(-90)"/>
<polygon points="0,0 -21.3,-5 -21.3,5" fill="#111" transform="translate(1945.9,1155.2) rotate(90)"/>
<text x="1125.7" y="1188.2" font-size="25" text-anchor="middle" fill="#1c1c1c" stroke="#1c1c1c" stroke-width=".55" >R0.25</text>
<path d="M1168,1168.5 L1178,1162" stroke="#111" stroke-width="1.6" fill="none"/>
<polygon points="0,0 -9,-3 -9,3" fill="#111" transform="translate(1181,1159.8) rotate(-35)"/>
<text x="1737" y="1335" font-size="25" text-anchor="middle" fill="#1c1c1c" stroke="#1c1c1c" stroke-width=".55" >5x</text>
<path d="M1737,1303 L1717.5,1176" stroke="#111" stroke-width="1.6" fill="none"/>
<polygon points="0,0 -24,-6 -24,6" fill="#111" transform="translate(1715.8,1164) rotate(-98.5)"/>
</g></svg>
<div class="b" style="left:0px;top:60px;width:2558px;height:54px;background:#fff;"></div>
<div class="b" style="left:0px;top:60px;width:59.5px;height:1335px;background:#f7f7f7;border-right:1px solid #e2e2e2;"></div>
<svg class="b" style="left:71px;top:73px" width="28" height="28" viewBox="0 0 28 28" ><path d="M2,11 L12,2 V8 q12,0 13.500,13 q.3,3 -1.500,5.500 q.5,-9.500 -12,-9.500 V20 Z" fill="#2b2b2b"/></svg>
<svg class="b" style="left:124px;top:73px" width="28" height="28" viewBox="0 0 28 28" ><path d="M26,11 L16,2 V8 q-12,0 -13.500,13 q-.3,3 1.500,5.500 q-.5,-9.500 12,-9.500 V20 Z" fill="#9a9a9a"/></svg>
<div class="b" style="left:164.5px;top:66px;width:3px;height:40px;background:linear-gradient(90deg,#bdbdbd,#e3e3e3);"></div>
<svg class="b" style="left:180px;top:72px" width="29" height="30" viewBox="0 0 29 30" ><g stroke="#3a3a3a" stroke-width="1.600" stroke-linejoin="round"><rect x="1.500" y="1.500" width="24" height="24" rx="3" fill="#fff"/><path d="M1.500,4 l4,4 v19 h19 l1,-1" fill="none"/><rect x="5.500" y="8" width="20" height="19" rx="1" fill="#fff"/><path d="M10,14 l3,-3.500 h12.500 v13 l-3,3.500 h-12.500 z" fill="#9b9b9b"/><path d="M10,14 h12.500 v13 M22.500,14 l3,-3.500" fill="none"/></g></svg>
<svg class="b" style="left:231px;top:72.5px" width="30" height="29" viewBox="0 0 30 29" ><path d="M27,6.500 A14,14 0 1 0 27,22.500 L17,14.500 Z" fill="#8f8f8f" stroke="#333" stroke-width="1.600"/><path d="M3,14.500 A13,13 0 0 0 27,22.500 L17,14.500 Z" fill="#b9b9b9" stroke="#333" stroke-width="1.200"/><ellipse cx="21.500" cy="9.500" rx="5" ry="3" transform="rotate(-38 21.500 9.500)" fill="#fff" stroke="#333" stroke-width="1.300"/><ellipse cx="21.500" cy="19.500" rx="5" ry="3" transform="rotate(38 21.500 19.500)" fill="#fff" stroke="#333" stroke-width="1.300"/><path d="M10,14.500 h9 M20.500,14.500 h2 M24,14.500 h3.500 M13,11.500 l-3.500,3 l3.500,3" stroke="#333" stroke-width="1.500" fill="none"/></svg>
<div class="b" style="left:272.5px;top:66px;width:3px;height:40px;background:linear-gradient(90deg,#bdbdbd,#e3e3e3);"></div>
<svg class="b" style="left:288px;top:72px" width="30" height="30" viewBox="0 0 30 30" ><path d="M4,25 L25,4" stroke="#2b2b2b" stroke-width="2.200"/><circle cx="3.5" cy="25.5" r="2.3" fill="#fff" stroke="#3b62b0" stroke-width="1"/><circle cx="25.5" cy="3.5" r="2.3" fill="#fff" stroke="#3b62b0" stroke-width="1"/></svg>
<svg class="b" style="left:332px;top:82px" width="16" height="11" viewBox="0 0 16 11" ><path d="M1.500,1.800 L8,8.300 L14.500,1.800" fill="none" stroke="#2b2b2b" stroke-width="3"/></svg>
<svg class="b" style="left:366px;top:72px" width="30" height="30" viewBox="0 0 30 30" ><rect x="3.500" y="4.500" width="23" height="20.500" fill="none" stroke="#2b2b2b" stroke-width="1.700"/><circle cx="3.5" cy="26" r="2.3" fill="#fff" stroke="#3b62b0" stroke-width="1"/><circle cx="26.5" cy="4" r="2.3" fill="#fff" stroke="#3b62b0" stroke-width="1"/></svg>
<svg class="b" style="left:410.5px;top:82px" width="16" height="11" viewBox="0 0 16 11" ><path d="M1.500,1.800 L8,8.300 L14.500,1.800" fill="none" stroke="#2b2b2b" stroke-width="3"/></svg>
<svg class="b" style="left:444px;top:72px" width="30" height="30" viewBox="0 0 30 30" ><circle cx="14.500" cy="15.500" r="12.500" fill="none" stroke="#2b2b2b" stroke-width="1.700"/><circle cx="14.5" cy="15.5" r="2.3" fill="#fff" stroke="#3b62b0" stroke-width="1"/><circle cx="24" cy="6.5" r="2.3" fill="#fff" stroke="#3b62b0" stroke-width="1"/></svg>
<svg class="b" style="left:488px;top:82px" width="16" height="11" viewBox="0 0 16 11" ><path d="M1.500,1.800 L8,8.300 L14.500,1.800" fill="none" stroke="#2b2b2b" stroke-width="3"/></svg>
<svg class="b" style="left:521.5px;top:72px" width="30" height="30" viewBox="0 0 30 30" ><path d="M4,21 A11,11 0 0 1 26,21" fill="none" stroke="#2b2b2b" stroke-width="2"/><path d="M12.500,19.500 h5 M15,17 v5" stroke="#2b2b2b" stroke-width="1.600"/><circle cx="15" cy="7.5" r="2.6" fill="#fff" stroke="#3b62b0" stroke-width="1"/><circle cx="4" cy="21" r="2.6" fill="#fff" stroke="#3b62b0" stroke-width="1"/><circle cx="26" cy="21" r="2.6" fill="#fff" stroke="#3b62b0" stroke-width="1"/></svg>
<svg class="b" style="left:566px;top:82px" width="16" height="11" viewBox="0 0 16 11" ><path d="M1.500,1.800 L8,8.300 L14.500,1.800" fill="none" stroke="#2b2b2b" stroke-width="3"/></svg>
<svg class="b" style="left:599.5px;top:72px" width="30" height="30" viewBox="0 0 30 30" ><circle cx="15" cy="16.500" r="10.300" fill="none" stroke="#3b62b0" stroke-width="1"/><polygon points="15,3.500 27.500,12.600 22.700,27 7.300,27 2.500,12.600" fill="none" stroke="#23324f" stroke-width="2.200"/><circle cx="15" cy="16.5" r="2.6" fill="#fff" stroke="#3b62b0" stroke-width="1"/><circle cx="22.5" cy="8" r="2.3" fill="#fff" stroke="#3b62b0" stroke-width="1"/></svg>
<svg class="b" style="left:644px;top:82px" width="16" height="11" viewBox="0 0 16 11" ><path d="M1.500,1.800 L8,8.300 L14.500,1.800" fill="none" stroke="#2b2b2b" stroke-width="3"/></svg>
<svg class="b" style="left:677px;top:72px" width="30" height="30" viewBox="0 0 30 30" ><path d="M4,26 q2,-9 11,-11 q8,-2 11,-11" fill="none" stroke="#2b2b2b" stroke-width="2"/><circle cx="4" cy="26" r="2.3" fill="#fff" stroke="#3b62b0" stroke-width="1"/><circle cx="15" cy="15" r="2.3" fill="#fff" stroke="#3b62b0" stroke-width="1"/><circle cx="26" cy="4" r="2.3" fill="#fff" stroke="#3b62b0" stroke-width="1"/></svg>
<svg class="b" style="left:722px;top:82px" width="16" height="11" viewBox="0 0 16 11" ><path d="M1.500,1.800 L8,8.300 L14.500,1.800" fill="none" stroke="#2b2b2b" stroke-width="3"/></svg>
<svg class="b" style="left:755.5px;top:72px" width="30" height="30" viewBox="0 0 30 30" ><circle cx="15" cy="15" r="4.300" fill="#fff" stroke="#1d56b3" stroke-width="1.800"/></svg>
<svg class="b" style="left:806.5px;top:72px" width="30" height="30" viewBox="0 0 30 30" ><rect x="3" y="3.500" width="24" height="23" fill="#f0f0f0" stroke="#777" stroke-width="1" stroke-dasharray="2.500,2"/><text x="15" y="25.500" font-size="29" font-weight="700" text-anchor="middle" fill="#fff" stroke="#333" stroke-width="1.500" font-family="Liberation Sans, sans-serif">A</text><circle cx="3" cy="26.5" r="2.3" fill="#fff" stroke="#3b62b0" stroke-width="1"/><circle cx="27" cy="3" r="2.3" fill="#fff" stroke="#3b62b0" stroke-width="1"/></svg>
<svg class="b" style="left:859px;top:72px" width="28" height="30" viewBox="0 0 28 30" ><path d="M2.500,3.500 h17 l6,6 v17.500 h-17 l-6,-6 z M8.500,9.500 h17 M8.500,9.500 v17.500 M2.500,3.500 l6,6" fill="#fff" stroke="#333" stroke-width="1.600" stroke-linejoin="round"/><path d="M3.800,5.500 v15 l4,4.500" fill="none" stroke="#1d56b3" stroke-width="2.400"/></svg>
<svg class="b" style="left:902px;top:82px" width="16" height="11" viewBox="0 0 16 11" ><path d="M1.500,1.800 L8,8.300 L14.500,1.800" fill="none" stroke="#2b2b2b" stroke-width="3"/></svg>
<svg class="b" style="left:936.5px;top:72px" width="28" height="30" viewBox="0 0 28 30" ><path d="M3,2.500 v25" stroke="#1d56b3" stroke-width="3.200"/><path d="M25.500,2.500 v25" stroke="#2b2b2b" stroke-width="2.600" stroke-dasharray="6.500,3"/><path d="M8,10 h12 M8,10 l3.500,-2.500 M8,10 l3.500,2.500" stroke="#2b2b2b" stroke-width="1.500" fill="none"/><path d="M8,20.500 h12 M20,20.500 l-3.500,-2.500 M20,20.500 l-3.500,2.500" stroke="#1d56b3" stroke-width="1.600" fill="none"/></svg>
<div class="b" style="left:977px;top:66px;width:3px;height:40px;background:linear-gradient(90deg,#bdbdbd,#e3e3e3);"></div>
<svg class="b" style="left:991px;top:72px" width="30" height="30" viewBox="0 0 30 30" ><path d="M4,28 V19 Q4,4.500 19,4.500 H27" fill="none" stroke="#2b2b2b" stroke-width="2.800"/><path d="M4,4.500 h6 M4,4.500 v5" stroke="#888" stroke-width="1" stroke-dasharray="2,2"/><path d="M21,4 h6.500 M4,22 v6.500" stroke="#1d56b3" stroke-width="2"/></svg>
<svg class="b" style="left:1036.5px;top:82px" width="16" height="11" viewBox="0 0 16 11" ><path d="M1.500,1.800 L8,8.300 L14.500,1.800" fill="none" stroke="#2b2b2b" stroke-width="3"/></svg>
<svg class="b" style="left:1070.5px;top:72.5px" width="28" height="29" viewBox="0 0 28 29" ><g fill="none" stroke="#2b2b2b" stroke-width="3"><circle cx="6.500" cy="7.500" r="3.600"/><circle cx="6.500" cy="21.500" r="3.600"/></g><path d="M9,10 L26,22.500 L24,24.500 L13.500,17 L9.500,19.500 L8,17.500 L11,14.500 L7.500,12 Z M13.500,12.500 L24,4.500 L26,6.500 L16,14.500 Z" fill="#2b2b2b"/></svg>
<svg class="b" style="left:1114px;top:82px" width="16" height="11" viewBox="0 0 16 11" ><path d="M1.500,1.800 L8,8.300 L14.500,1.800" fill="none" stroke="#2b2b2b" stroke-width="3"/></svg>
<svg class="b" style="left:1150px;top:72px" width="28" height="30" viewBox="0 0 28 30" ><path d="M4.500,28 V12 q0,-8.500 8,-8.500 q8,0 8,8.500 v3 h6 v12.500" fill="none" stroke="#1d56b3" stroke-width="2.200"/><path d="M9.500,28 V12.500 q0,-4 3,-4 q3,0 3,4 v7.500 h6 v4 h-5" fill="none" stroke="#2b2b2b" stroke-width="1.800"/></svg>
<svg class="b" style="left:1193.5px;top:82px" width="16" height="11" viewBox="0 0 16 11" ><path d="M1.500,1.800 L8,8.300 L14.500,1.800" fill="none" stroke="#2b2b2b" stroke-width="3"/></svg>
<svg class="b" style="left:1226px;top:72px" width="30" height="30" viewBox="0 0 30 30" ><path d="M3.500,3 v23.500 h9.500 v-7 h-4 v-16.500 z" fill="none" stroke="#2b2b2b" stroke-width="2.800"/><path d="M15.500,3 v25" stroke="#2b2b2b" stroke-width="1.600" stroke-dasharray="5,2.500,1.500,2.500"/><path d="M27,3 v23.500 h-8.500 v-7 h3.500 v-16.500 z" fill="none" stroke="#1d56b3" stroke-width="1.600"/></svg>
<svg class="b" style="left:1279px;top:73px" width="28" height="28" viewBox="0 0 28 28" ><rect x="2.500" y="2.500" width="9" height="9" fill="none" stroke="#2b2b2b" stroke-width="2.400"/><g fill="none" stroke="#1d56b3" stroke-width="1.600"><rect x="16.500" y="2.500" width="9" height="9"/><rect x="2.500" y="16.500" width="9" height="9"/><rect x="16.500" y="16.500" width="9" height="9"/></g></svg>
<svg class="b" style="left:1322px;top:82px" width="16" height="11" viewBox="0 0 16 11" ><path d="M1.500,1.800 L8,8.300 L14.500,1.800" fill="none" stroke="#2b2b2b" stroke-width="3"/></svg>
<svg class="b" style="left:1357.5px;top:71.5px" width="27" height="31" viewBox="0 0 27 31" ><path d="M3.500,4 h13 l7.500,7.500 v17 h-20.500 z" fill="#fff" stroke="#2b2b2b" stroke-width="1.800" stroke-linejoin="round"/><path d="M4,3 q8,-2.500 10.500,5.500 h3 l-5,5.500 l-5,-5.500 h3 q-1.500,-5 -6.500,-5.500 z" fill="#2b2b2b"/><text x="13.700" y="25.500" font-size="10.500" font-weight="700" text-anchor="middle" fill="#2b2b2b" font-family="Liberation Sans, sans-serif" textLength="18">DXF</text></svg>
<svg class="b" style="left:1401px;top:82px" width="16" height="11" viewBox="0 0 16 11" ><path d="M1.500,1.800 L8,8.300 L14.500,1.800" fill="none" stroke="#2b2b2b" stroke-width="3"/></svg>
<div class="b" style="left:1425px;top:66px;width:3px;height:40px;background:linear-gradient(90deg,#bdbdbd,#e3e3e3);"></div>
<svg class="b" style="left:1441px;top:72px" width="27" height="30" viewBox="0 0 27 30" ><path d="M6,22 L21,8" stroke="#2b2b2b" stroke-width="2.800"/><polygon points="3,25 6,15.500 12.500,22" fill="#2b2b2b"/><polygon points="24,5 21,14.500 14.500,8" fill="#2b2b2b"/><path d="M1.500,20 l8,8 M18,2 l8,8" stroke="#2b2b2b" stroke-width="1.200"/></svg>
<div class="b" style="left:1482px;top:66px;width:3px;height:40px;background:linear-gradient(90deg,#bdbdbd,#e3e3e3);"></div>
<svg class="b" style="left:1497.5px;top:73px" width="28" height="28" viewBox="0 0 28 28" ><path d="M2,24 L25,2.500" stroke="#1d56b3" stroke-width="1.600"/><path d="M13.500,13.500 L26,26" stroke="#2b2b2b" stroke-width="3.200"/><circle cx="13.500" cy="13.500" r="3.200" fill="#2b2b2b"/></svg>
<svg class="b" style="left:1549px;top:73px" width="28" height="28" viewBox="0 0 28 28" ><circle cx="14" cy="14" r="11.500" fill="none" stroke="#1d56b3" stroke-width="1.600"/><circle cx="14" cy="14" r="6.300" fill="none" stroke="#2b2b2b" stroke-width="3"/></svg>
<svg class="b" style="left:1599px;top:73px" width="28" height="28" viewBox="0 0 28 28" ><path d="M2.500,8.500 L19.500,25" stroke="#2b2b2b" stroke-width="3.400"/><path d="M9.500,3 L25.500,18.500" stroke="#1d56b3" stroke-width="1.600"/></svg>
<svg class="b" style="left:1651px;top:73px" width="28" height="28" viewBox="0 0 28 28" ><path d="M2,24.500 L25,2" stroke="#2b2b2b" stroke-width="3.200"/><circle cx="19.500" cy="19" r="6.800" fill="none" stroke="#1d56b3" stroke-width="1.600"/></svg>
<div class="b" style="left:1703.5px;top:85.5px;width:25px;height:3.2px;background:#2b2b2b;"></div>
<div class="b" style="left:1764.5px;top:75px;width:3.2px;height:25px;background:#2b2b2b;"></div>
<svg class="b" style="left:1803.5px;top:73px" width="29" height="28" viewBox="0 0 29 28" ><path d="M1,25 h27" stroke="#2b2b2b" stroke-width="3.200"/><path d="M13.500,25 V2" stroke="#1d56b3" stroke-width="1.800"/><path d="M13.500,15.500 h9 v9.500" fill="none" stroke="#2b2b2b" stroke-width="1.600"/></svg>
<div class="b" style="left:1860.5px;top:82.5px;width:16.5px;height:3.2px;background:#2b2b2b;"></div>
<div class="b" style="left:1860.5px;top:90px;width:16.5px;height:3.2px;background:#2b2b2b;"></div>
<svg class="b" style="left:1905px;top:73px" width="30" height="28" viewBox="0 0 30 28" ><path d="M1,14 h7 M22,14 h7" stroke="#1d56b3" stroke-width="1.600"/><path d="M10,14 h2.500 M17.500,14 h2.500" stroke="#1d56b3" stroke-width="1.600"/><circle cx="15" cy="14" r="3.800" fill="#2b2b2b"/></svg>
<svg class="b" style="left:1958px;top:73px" width="26" height="28" viewBox="0 0 26 28" ><path d="M2,5 q10,2 12,21" fill="none" stroke="#1d56b3" stroke-width="1.600"/><path d="M9.500,13 L24,2.500" stroke="#2b2b2b" stroke-width="3"/></svg>
<svg class="b" style="left:2007.5px;top:73px" width="28" height="28" viewBox="0 0 28 28" ><path d="M1.500,2 q2,18 24,24" fill="none" stroke="#1d56b3" stroke-width="1.400"/><path d="M10,19.500 q6,-3 7.500,-9 q1.500,-6 7,-8" fill="none" stroke="#2b2b2b" stroke-width="3"/><circle cx="10.500" cy="19.500" r="3.400" fill="#2b2b2b"/></svg>
<svg class="b" style="left:2059.5px;top:73px" width="28" height="28" viewBox="0 0 28 28" ><path d="M11,3.500 h-9 l8,10.500 l-8,10.500 h9" fill="none" stroke="#2b2b2b" stroke-width="2.800"/><path d="M14,1 v26" stroke="#2b2b2b" stroke-width="1.600" stroke-dasharray="6,2.500,1.500,2.500"/><path d="M17,3.500 h9 l-7,10.500 l7,10.500 h-9" fill="none" stroke="#1d56b3" stroke-width="1.600"/></svg>
<svg class="b" style="left:2110px;top:73px" width="28" height="28" viewBox="0 0 28 28" ><path d="M1,10 h26" stroke="#1d56b3" stroke-width="3.200"/><path d="M3,17 l4,-6 M9,17 l4,-6 M15,17 l4,-6 M21,17 l4,-6" stroke="#1d56b3" stroke-width="1.600"/></svg>
<svg class="b" style="left:2160px;top:72px" width="30" height="30" viewBox="0 0 30 30" ><path d="M3,27 q1,-16 12,-16 q11,0 12,16" fill="none" stroke="#2b2b2b" stroke-width="3"/><path d="M3,27 q1,-16 12,-16" fill="none" stroke="#1d56b3" stroke-width="3"/><path d="M1,19 l-2,-1 M3.500,14 l-2.500,-2.500 M7,10 l-2,-4 M11,8 l-1,-5 M15,7.500 v-5.500 M19,8 l1,-5 M23,10 l2,-4 M26.500,14 l2.500,-2.500 M29,19 l2,-1" stroke="#666" stroke-width="1.300" transform="translate(0,0)"/></svg>
<div class="b" style="left:2217.3px;top:63.2px;width:240.5px;height:47.8px;background:#ededed;border-radius:6px;"></div>
<span class="t" style="left:2232.5px;top:75.35px;font-size:22px;line-height:25.3px;color:#2b2b2b;transform:scaleX(0.92);">Search tools...</span>
<div class="b" style="left:2368.3px;top:75.3px;width:48px;height:27.5px;background:#f5f5f5;border:1px solid #c4c4c4;border-radius:4px;box-sizing:border-box;box-shadow:0 1.500px 0 #a8a8a8;"></div>
<span class="t" style="left:2372.5px;top:79.15px;font-size:18px;line-height:20.7px;color:#333;transform:scaleX(1.08);">alt/</span>
<svg class="b" style="left:2399.5px;top:82.5px" width="14" height="13" viewBox="0 0 14 13" ><path d="M0.500,3.500 h4 l4.500,7 h4.500 M8.500,3.500 h5" fill="none" stroke="#333" stroke-width="1.500"/></svg>
<div class="b" style="left:2417.6px;top:75.3px;width:25px;height:27.5px;background:#f5f5f5;border:1px solid #c4c4c4;border-radius:4px;box-sizing:border-box;box-shadow:0 1.500px 0 #a8a8a8;"></div>
<span class="t" style="left:2425.8px;top:78.65px;font-size:18px;line-height:20.7px;color:#333;">c</span>
<div class="b" style="left:0px;top:0px;width:2558px;height:60px;background:#e9e9e9;"></div>
<svg class="b" style="left:18px;top:6px" width="44" height="48" viewBox="0 0 44 48" >
<g transform="translate(20.8,23.4)">
<polygon points="0,-20.6 17.84,-10.3 17.84,10.3 0,20.6 -17.84,10.3 -17.84,-10.3" fill="#5cb848"/>
<polygon points="0,-11.4 9.9,-5.7 9.9,5.7 0,11.4 -9.9,5.7 -9.9,-5.7" fill="#e9e9e9"/>
<path d="M7.3,-18.3 L0.6,-8.2 M-19.5,2.2 L-8.6,8.5 M9.6,6.4 L9.6,17.5" stroke="#e9e9e9" stroke-width="2.4" fill="none"/>
<path d="M-2.5,-7.2 L-6.6,-4.1 L-6.6,2.0" fill="none" stroke="#5d5d5d" stroke-width="2.7"/>
<path d="M-5.0,5.2 L0,8.0 L4.6,5.4" fill="none" stroke="#5d5d5d" stroke-width="2.7"/>
<path d="M6.6,2.6 L6.6,-4.1 L2.0,-6.9" fill="none" stroke="#5d5d5d" stroke-width="2.7"/>
</g>
</svg>
<span class="t" style="left:71.8px;top:10.98px;font-size:31px;line-height:35.65px;color:#5e5e5e;transform:scaleX(1.08);-webkit-text-stroke:.4px #e9e9e9;">onshape</span>
<div class="b" style="left:221px;top:21.5px;width:24.5px;height:4.2px;background:#303030;"></div>
<div class="b" style="left:221px;top:30.2px;width:24.5px;height:4.2px;background:#303030;"></div>
<div class="b" style="left:221px;top:38.9px;width:24.5px;height:4.2px;background:#303030;"></div>
<span class="t" style="left:262.3px;top:13.1px;font-size:32px;line-height:36.8px;color:#2b2b2b;font-weight:700;transform:scaleX(1);">1E - Full Detail Drivebase</span>
<span class="t" style="left:660px;top:21.2px;font-size:24px;line-height:27.6px;color:#9b9b9b;transform:scaleX(0.95);">FRCDesignLib Update</span>
<svg class="b" style="left:909px;top:21px" width="24" height="24" viewBox="0 0 24 24" ><g fill="none" stroke="#333" stroke-width="2.6" stroke-linecap="round"><path d="M10.5,13.5 a4.2,4.2 0 0 0 6,0 l3.2,-3.2 a4.2,4.2 0 0 0 -6,-6 l-1.6,1.6"/><path d="M13.5,10.5 a4.2,4.2 0 0 0 -6,0 l-3.2,3.2 a4.2,4.2 0 0 0 6,6 l1.6,-1.6"/></g></svg>
<svg class="b" style="left:946px;top:21px" width="29" height="22" viewBox="0 0 29 22" ><path d="M1.5,3 h8.5 l2.5,3 h14 v14 h-25 z" fill="#f4f4f4" stroke="#b0b0b0" stroke-width="1.6" stroke-linejoin="round"/></svg>
<span class="t" style="left:981.5px;top:18.2px;font-size:24px;line-height:27.6px;color:#8c8c8c;transform:scaleX(0.93);">Stage 1</span>
<svg class="b" style="left:1136px;top:17px" width="27" height="26" viewBox="0 0 27 26" ><g fill="#1d56b3"><polygon points="13.5,2 26,8.5 13.5,15 1,8.5"/><path d="M6,12.5 v6.5 q7.5,5 15,0 v-6.5 l-7.5,4 z"/><rect x="3" y="9.5" width="1.8" height="11"/><circle cx="3.9" cy="21.5" r="1.8"/></g></svg>
<svg class="b" style="left:1175px;top:16px" width="28" height="28" viewBox="0 0 28 28" ><circle cx="14" cy="14" r="12.300" fill="#f3f3f3" stroke="#2f2f2f" stroke-width="2.200"/><path d="M7,5 q3,-2.500 7,-2.500 q1.500,2 -1,3.500 q-1,1.500 1,2.500 q2,1.500 0,3 q-2.500,.5 -4.500,-1 q-2,-1 -3,-3 q-1,-1.500 .5,-2.500 z M13,14.500 q2.500,-1 5,.5 q2.500,1 2,3.500 q-1,2.500 -3,4.500 q-1.500,1.500 -2,-1 q-.5,-2 -2,-3.500 q-1.500,-2.500 0,-4 z M18,4 q3,1 5,3.500 q-1.500,1.500 -3.500,.5 q-2,-1.500 -1.500,-4 z" fill="#2f2f2f"/></svg>
<svg class="b" style="left:1217px;top:16px" width="30" height="28" viewBox="0 0 30 28" ><g fill="none" stroke="#2f2f2f" stroke-width="2.4" stroke-linejoin="round"><path d="M3,4 h10 l4,4 v13 h-14 z" fill="#e9e9e9"/><path d="M12,10 h10 l4,4 v12 h-14 z" fill="#e9e9e9"/></g></svg>
<span class="t" style="left:1255px;top:19.35px;font-size:22px;line-height:25.3px;color:#2b2b2b;transform:scaleX(0.95);">164</span>
<svg class="b" style="left:1318px;top:15px" width="16" height="32" viewBox="0 0 16 32" ><g fill="#2f2f2f"><circle cx="8" cy="15" r="5.2"/><rect x="6.7" y="2" width="2.6" height="5"/><rect x="6.7" y="24" width="2.6" height="3"/><rect x="6.7" y="28.5" width="2.6" height="2.5"/><circle cx="8" cy="2.6" r="1.6"/></g></svg>
<span class="t" style="left:1350px;top:19.35px;font-size:22px;line-height:25.3px;color:#2b2b2b;transform:scaleX(0.98);">404</span>
<svg class="b" style="left:1407px;top:15px" width="29" height="28" viewBox="0 0 29 28" ><g fill="#1d56b3"><rect x="1" y="12" width="6.5" height="14" rx="1"/><path d="M9,13 q4,-3 5.5,-8 q.7,-3.6 3,-3.4 q3,.6 2.4,5 l-.8,4.4 h6.4 q2.6,.4 2.2,3 l-2,9 q-.8,2.4 -3,2.4 h-9 q-2.4,-.4 -4.700,-1.600 z"/></g></svg>
<span class="t" style="left:1446px;top:19.35px;font-size:22px;line-height:25.3px;color:#2b2b2b;transform:scaleX(0.82);">2</span>
<svg class="b" style="left:2027px;top:16px" width="32" height="30" viewBox="0 0 32 30" ><g fill="none" stroke="#2f2f2f" stroke-width="2.6" stroke-linecap="round" stroke-linejoin="round"><path d="M8,3 q-4,0 -4,4 v4 q0,3.5 -3,4 q3,.5 3,4 v4 q0,4 4,4"/><path d="M24,3 q4,0 4,4 v4 q0,3.5 3,4 q-3,.5 -3,4 v4 q0,4 -4,4"/><path d="M10.500,15.500 l4,4.500 l7.500,-9.500" stroke-width="3"/></g></svg>
<svg class="b" style="left:2077px;top:17px" width="28" height="28" viewBox="0 0 28 28" ><g fill="#2f2f2f"><path d="M14,2 q2,0 2,2 q6,1.600 6.600,9 q.3,6 3.400,9 v1.500 h-24 v-1.500 q3.100,-3 3.400,-9 q.6,-7.400 6.600,-9 q0,-2 2,-2 z"/><path d="M10.500,25 h7 q-.5,2.600 -3.500,2.600 q-3,0 -3.500,-2.600 z"/></g></svg>
<svg class="b" style="left:2126px;top:18px" width="26" height="27" viewBox="0 0 26 27" ><g fill="none" stroke="#2f2f2f" stroke-width="2.2"><rect x="1.500" y="1.500" width="23" height="24" rx="3"/><path d="M5,8 l2,2 l3,-4 M5,14 l2,2 l3,-4 M5,20 l2,2 l3,-4" stroke-width="1.800"/><path d="M13,8.500 h8 M13,14.500 h8 M13,20.500 h8"/></g></svg>
<svg class="b" style="left:2173px;top:17px" width="29" height="29" viewBox="0 0 29 29" ><g fill="none" stroke="#2f2f2f" stroke-width="2.400"><rect x="1.500" y="3.500" width="10" height="10"/><rect x="1.500" y="17.500" width="10" height="10"/><rect x="15.500" y="17.500" width="10" height="10"/><path d="M21,1 v13 M14.500,7.500 h13" stroke-width="2.800"/></g></svg>
<svg class="b" style="left:2221px;top:17px" width="28" height="28" viewBox="0 0 28 28" ><path d="M13,1.500 q10.500,0 11.500,9.500 q0,2 1.500,4 l1,2 h-2.500 v4.500 q0,2.500 -2.500,2.500 h-2.500 v3.500 h-11 v-6 q-5,-4 -5,-10 q.5,-10 10,-10 z" fill="#2f2f2f"/><circle cx="13.500" cy="11.500" r="4.200" fill="none" stroke="#e9e9e9" stroke-width="2.600"/><path d="M13.500,4.500 v2.500 M13.500,16 v2.500 M6.500,11.500 h2.500 M18,11.500 h2.500 M8.600,6.600 l1.800,1.800 M16.600,14.600 l1.800,1.800 M8.600,16.400 l1.800,-1.800 M16.600,8.400 l1.800,-1.800" stroke="#e9e9e9" stroke-width="2.200"/></svg>
<div class="b" style="left:2264px;top:4px;width:87.7px;height:48.5px;background:#1a56b4;border-radius:7px;"></div>
<span class="t" style="left:2281.4px;top:15.5px;font-size:24px;line-height:27.6px;color:#fff;transform:scaleX(0.83);font-weight:400;-webkit-text-stroke:.5px #fff;">Share</span>
<svg class="b" style="left:2368px;top:19px" width="29" height="29" viewBox="0 0 29 29" ><circle cx="14.500" cy="14.500" r="13.500" fill="#2b2b2b"/><text x="14.500" y="22.500" font-size="23" font-weight="700" text-anchor="middle" fill="#e9e9e9" font-family="Liberation Sans, sans-serif">?</text></svg>
<svg class="b" style="left:2406px;top:29px" width="14" height="8" viewBox="0 0 14 8" ><polygon points="0,0 14,0 7,7.500" fill="#2b2b2b"/></svg>
<svg class="b" style="left:2437.5px;top:14.5px" width="37" height="37" viewBox="0 0 37 37" ><defs><clipPath id="avc"><rect width="37" height="37" rx="4"/></clipPath></defs><g clip-path="url(#avc)"><rect width="37" height="37" fill="#d8cdc4"/><rect x="29" y="0" width="8" height="37" fill="#a8a6a4"/><path d="M0,16 l8,-5 l18,-2 l8,5 l1,10 l-6,8 l-20,5 l-9,-4 z" fill="#8a6a52"/><path d="M2,19 l7,-4 l17,-2 l6,4 l-5,3 l-18,3 z" fill="#5a4436"/><path d="M3,27 l24,-5 l6,2 l-5,6 l-19,4 z" fill="#6e5442"/><circle cx="7" cy="29" r="1.600" fill="#2c221c"/><circle cx="24" cy="25.500" r="1.600" fill="#2c221c"/><ellipse cx="14" cy="19.300" rx="3.200" ry="2" fill="#2f9be0"/><ellipse cx="24.500" cy="18" rx="3.200" ry="2" fill="#2f9be0"/><path d="M0,0 h22 l-8,8 l-14,6 z" fill="#e4dcd5"/></g></svg>
<span class="t" style="left:2482.5px;top:18.2px;font-size:24px;line-height:27.6px;color:#2b2b2b;transform:scaleX(0.88);">Kelly</span>
<svg class="b" style="left:2538px;top:27px" width="13" height="8" viewBox="0 0 13 8" ><polygon points="0,0 13,0 6.500,7" fill="#2b2b2b"/></svg>
<svg class="b" style="left:15px;top:73px" width="31" height="28" viewBox="0 0 31 28" ><g fill="none" stroke="#2b2b2b"><circle cx="6.500" cy="6.500" r="4.600" stroke-width="2.400"/><path d="M6.500,11 v11 M6.500,18 q0,-5 9,-6" stroke-width="2.600"/><circle cx="6.500" cy="23" r="3" fill="#2b2b2b" stroke="none"/><circle cx="16.500" cy="11.500" r="3.200" fill="#2b2b2b" stroke="none"/><path d="M15,3 h15.500 M21,11 h9.500 M21,18 h9.500 M14,25 h16.500" stroke-width="2.600"/></g></svg>
<svg class="b" style="left:17px;top:125px" width="28" height="30" viewBox="0 0 28 30" ><g fill="#2b2b2b"><circle cx="7" cy="14" r="5"/><rect x="5.700" y="1" width="2.600" height="3"/><rect x="5.700" y="5.500" width="2.600" height="3"/><rect x="5.700" y="20" width="2.600" height="3"/><rect x="5.700" y="24.500" width="2.600" height="3.500"/></g><path d="M20.500,15 v12 M14.500,21 h12" stroke="#1d56b3" stroke-width="3"/></svg>
<svg class="b" style="left:15px;top:178px" width="31" height="27" viewBox="0 0 31 27" ><path d="M15.500,1 q14.500,0 14.500,9 q0,9 -14.500,9 q-2,0 -4,-.4 q-4,5 -9.500,6.400 q4,-3.500 4.500,-8 q-5,-2.500 -5,-7 q0,-9 14,-9 z" fill="#2b2b2b"/></svg>
<svg class="b" style="left:17px;top:231px" width="28" height="28" viewBox="0 0 28 28" ><rect x="1.500" y="1.500" width="20" height="25" rx="3" fill="none" stroke="#2b2b2b" stroke-width="2.400"/><path d="M5.500,8 h12 M5.500,13 h9 M5.500,18 h6" stroke="#2b2b2b" stroke-width="2.200"/><path d="M11.500,22.500 l2,-5 l9.500,-9.500 l3.500,3.500 l-9.500,9.500 z" fill="#2b2b2b" stroke="#f7f7f7" stroke-width="1"/></svg>
<svg class="b" style="left:15px;top:282px" width="30" height="29" viewBox="0 0 30 29" ><circle cx="18" cy="17.500" r="9.800" fill="none" stroke="#2b2b2b" stroke-width="2.600"/><path d="M14.500,2 h7 M18,2 v5 M25.500,8 l2,-2 M18,17.500 l4,-4.500" stroke="#2b2b2b" stroke-width="2.400" fill="none"/><path d="M3,12 h6 M1,17 h6 M3,22 h6" stroke="#2b2b2b" stroke-width="1.800"/></svg>
<div class="b" style="left:0px;top:323.5px;width:59px;height:1px;background:#d5d5d5;"></div>
<svg class="b" style="left:17.5px;top:336.5px" width="25" height="28" viewBox="0 0 25 28" ><rect x="1.500" y="1.500" width="22" height="25" rx="2.500" fill="none" stroke="#2b2b2b" stroke-width="2.400"/><path d="M5,8 l1.800,1.800 l3,-3.600 M5,14 l1.800,1.800 l3,-3.600 M5,20 l1.800,1.800 l3,-3.600" stroke="#2b2b2b" stroke-width="1.600" fill="none"/><path d="M12.500,8.500 h8 M12.500,14.500 h8 M12.500,20.500 h8" stroke="#2b2b2b" stroke-width="2.400"/></svg>
<div class="b" style="left:60px;top:114px;width:308.5px;height:1280.5px;background:#fff;border:1px solid #d6d6d6;border-left:none;box-sizing:border-box;"></div>
<svg class="b" style="left:76px;top:138px" width="23" height="23" viewBox="0 0 23 23" ><path d="M1.500,1.500 h20 l-7.500,10 v8.500 l-5,-3 v-5.500 z" fill="none" stroke="#2b2b2b" stroke-width="1.900" stroke-linejoin="round"/></svg>
<div class="b" style="left:119px;top:126px;width:237px;height:43.5px;border:1px solid #a9a9a9;border-radius:5px;box-sizing:border-box;background:#fff;"></div>
<span class="t" style="left:128.5px;top:137.63px;font-size:21px;line-height:24.15px;color:#8c8c8c;font-style:italic;transform:scaleX(0.91);">Filter by name or type</span>
<span class="t" style="left:66.5px;top:181.33px;font-size:21px;line-height:24.15px;color:#2b2b2b;transform:scaleX(0.95);-webkit-text-stroke:.55px #2b2b2b;">Features (42)</span>
<svg class="b" style="left:218px;top:183px" width="30" height="22" viewBox="0 0 30 22" ><path d="M1.500,18 v-16.500 h8 l2.500,3 h15.500 v15.500 h-12" fill="none" stroke="#9c9c9c" stroke-width="1.300"/><path d="M7,8.500 v12 M1,14.500 h12" stroke="#6f94d6" stroke-width="2.600"/></svg>
<div class="b" style="left:269px;top:183.5px;width:5.5px;height:21px;background:#9a9a9a;"></div>
<div class="b" style="left:281.5px;top:183.5px;width:5.5px;height:21px;background:#9a9a9a;"></div>
<svg class="b" style="left:310px;top:179px" width="27" height="29" viewBox="0 0 27 29" ><circle cx="13" cy="16.500" r="10.300" fill="none" stroke="#2b2b2b" stroke-width="2.600"/><path d="M9.500,2 h7 M13,2 v4.500 M21,8 l2.500,-2.500 M13,16.500 l4.500,4.500" stroke="#2b2b2b" stroke-width="2.400" fill="none"/></svg>
<svg class="b" style="left:66.5px;top:229px" width="17" height="12" viewBox="0 0 17 12" ><path d="M1.500,2 L8.500,9 L15.500,2" fill="none" stroke="#555" stroke-width="2.800"/></svg>
<span class="t" style="left:95px;top:223.9px;font-size:20px;line-height:23px;color:#2b2b2b;">Default geometry</span>
<div class="b" style="left:74px;top:255px;width:1px;height:155px;background:#d0d0d0;"></div>
<div class="b" style="left:68px;top:409px;width:13px;height:1px;background:#d0d0d0;"></div>
<svg class="b" style="left:102px;top:267.5px" width="14" height="14" viewBox="0 0 14 14" ><circle cx="7" cy="7" r="5.200" fill="none" stroke="#444" stroke-width="1.300"/><circle cx="7" cy="7" r="2.200" fill="#444"/></svg>
<span class="t" style="left:128px;top:262.9px;font-size:20px;line-height:23px;color:#2b2b2b;transform:scaleX(0.96);">Origin</span>
<svg class="b" style="left:97.5px;top:302px" width="24" height="23" viewBox="0 0 24 23" ><path d="M1.500,1.500 L22.500,5 V21.500 L1.500,17 Z" fill="#e4e4e4" stroke="#b3b3b3" stroke-width="1.400"/><path d="M10,3 V12.500 L22.500,15" fill="none" stroke="#b3b3b3" stroke-width="1.400"/></svg>
<span class="t" style="left:128px;top:301.9px;font-size:20px;line-height:23px;color:#8f8f8f;transform:scaleX(1.01);">Top</span>
<svg class="b" style="left:97.5px;top:341px" width="24" height="23" viewBox="0 0 24 23" ><path d="M1.500,1.500 L22.500,5 V21.500 L1.500,17 Z" fill="#e4e4e4" stroke="#b3b3b3" stroke-width="1.400"/><path d="M10,3 V12.500 L22.500,15" fill="none" stroke="#b3b3b3" stroke-width="1.400"/></svg>
<span class="t" style="left:128px;top:340.9px;font-size:20px;line-height:23px;color:#8f8f8f;transform:scaleX(1.01);">Front</span>
<svg class="b" style="left:97.5px;top:380px" width="24" height="23" viewBox="0 0 24 23" ><path d="M1.500,1.500 L22.500,5 V21.500 L1.500,17 Z" fill="#e4e4e4" stroke="#b3b3b3" stroke-width="1.400"/><path d="M10,3 V12.500 L22.500,15" fill="none" stroke="#b3b3b3" stroke-width="1.400"/></svg>
<span class="t" style="left:128px;top:379.9px;font-size:20px;line-height:23px;color:#8f8f8f;transform:scaleX(0.97);">Right</span>
<svg class="b" style="left:69px;top:421.5px" width="12" height="17" viewBox="0 0 12 17" ><path d="M2,1.500 L9,8.500 L2,15.500" fill="none" stroke="#555" stroke-width="3.200"/></svg>
<svg class="b" style="left:98.5px;top:418px" width="24" height="24" viewBox="0 0 24 24" ><path d="M12,1.500 l10,5 v11 l-10,5 l-10,-5 v-11 z M2,6.500 l10,5 l10,-5 M12,11.500 v11" fill="#f3f3f3" stroke="#aaa" stroke-width="1.400" stroke-linejoin="round"/></svg>
<span class="t" style="left:129.5px;top:418.9px;font-size:20px;line-height:23px;color:#8f8f8f;transform:scaleX(0.95);">Origin Cube</span>
<svg class="b" style="left:294px;top:416px" width="12" height="28" viewBox="0 0 12 28" ><g fill="#222"><circle cx="6" cy="14" r="4.600"/><rect x="5" y="1" width="2" height="2.500"/><rect x="5" y="5" width="2" height="3.500"/><rect x="5" y="19.500" width="2" height="3.500"/><rect x="5" y="24.500" width="2" height="2.500"/></g></svg>
<svg class="b" style="left:69px;top:460.5px" width="12" height="17" viewBox="0 0 12 17" ><path d="M2,1.500 L9,8.500 L2,15.500" fill="none" stroke="#555" stroke-width="3.200"/></svg>
<svg class="b" style="left:98.5px;top:457px" width="25" height="25" viewBox="0 0 25 25" ><g fill="#f6f6f6" stroke="#a8a8a8" stroke-width="1.300" stroke-linejoin="round"><path d="M12.500,2 H19 L24,7 V23.500 H6.500 L1.500,18.500 V12.500 H12.500 Z"/><path d="M12.500,2 L17.500,7 H24 M17.500,7 V17.500 H6.500 L1.500,12.500 M6.500,17.500 V23.500 M12.500,12.500 L17.500,17.500" fill="none" stroke-width="1"/><path d="M2,2.500 q7,-.5 8.500,6.500 h2.500 l-4,4.500 l-4,-4.500 h2.500 q-1,-4 -5.500,-4.500 z" fill="#a8a8a8" stroke="none"/></g></svg>
<span class="t" style="left:129.5px;top:457.9px;font-size:20px;line-height:23px;color:#8f8f8f;transform:scaleX(0.98);">Layout Sketches</span>
<svg class="b" style="left:69px;top:499.5px" width="12" height="17" viewBox="0 0 12 17" ><path d="M2,1.500 L9,8.500 L2,15.500" fill="none" stroke="#555" stroke-width="3.200"/></svg>
<svg class="b" style="left:98.5px;top:498.5px" width="24" height="19" viewBox="0 0 24 19" ><path d="M1.200,2 h7.500 l2,2.600 h12 v13 h-21.500 z" fill="#fff" stroke="#555" stroke-width="1.500" stroke-linejoin="round"/></svg>
<span class="t" style="left:129.5px;top:496.9px;font-size:20px;line-height:23px;color:#2b2b2b;transform:scaleX(0.95);">Tubes (3)</span>
<svg class="b" style="left:66.5px;top:541px" width="17" height="12" viewBox="0 0 17 12" ><path d="M1.500,2 L8.500,9 L15.500,2" fill="none" stroke="#555" stroke-width="2.800"/></svg>
<svg class="b" style="left:98.5px;top:537.5px" width="24" height="19" viewBox="0 0 24 19" ><path d="M1.200,2 h7.500 l2,2.600 h12 v13 h-21.500 z" fill="#fff" stroke="#555" stroke-width="1.500" stroke-linejoin="round"/></svg>
<span class="t" style="left:129.5px;top:535.9px;font-size:20px;line-height:23px;color:#2b2b2b;transform:scaleX(0.97);">Bellypan (5)</span>
<div class="b" style="left:74px;top:567px;width:1px;height:194px;background:#d0d0d0;"></div>
<div class="b" style="left:68px;top:761px;width:13px;height:1px;background:#d0d0d0;"></div>
<svg class="b" style="left:96.5px;top:574px" width="24" height="24" viewBox="0 0 24 24" ><path d="M1,22.500 h22" stroke="#5b83c8" stroke-width="1.200"/><path d="M4.500,19.500 l2,-6 l10.500,-10.500 q1.500,-1 3,.5 q1.500,1.500 .5,3 l-10.500,10.500 z M6.500,13.500 l4,4 M15,5 l4,4" fill="#fff" stroke="#8d8d8d" stroke-width="1.400" stroke-linejoin="round"/></svg>
<span class="t" style="left:128.5px;top:574.9px;font-size:20px;line-height:23px;color:#8f8f8f;transform:scaleX(0.99);">Bellypan</span>
<svg class="b" style="left:96.5px;top:613px" width="25" height="25" viewBox="0 0 25 25" ><g opacity="1" stroke="#444" stroke-width="1.300" stroke-linejoin="round"><rect x="1" y="1" width="20" height="20" rx="3" fill="#fff"/><path d="M1,3.500 l3.500,3.500 v16 h17" fill="none"/><rect x="4.500" y="7" width="19" height="16.500" rx="1" fill="#fff"/><path d="M8.500,12.500 l2.500,-3 h11 v11 l-2.500,3 h-11 z" fill="#9a9a9a"/><path d="M8.500,12.500 h11 v11 M19.500,12.500 l2.500,-3" fill="none"/></g></svg>
<span class="t" style="left:128.5px;top:613.9px;font-size:20px;line-height:23px;color:#2b2b2b;transform:scaleX(0.99);">Bellypan</span>
<svg class="b" style="left:96.5px;top:652px" width="24" height="24" viewBox="0 0 24 24" ><path d="M12,1.500 l9.500,5 v10.500 l-9.500,5.500 l-9.500,-5.500 v-10.500 z" fill="#bdbdbd" stroke="#8a8a8a" stroke-width="1.200"/><path d="M2.500,6.500 q9.500,6 19,0 M12,11 v11.500" fill="none" stroke="#8a8a8a" stroke-width="1.200"/><ellipse cx="12" cy="6.800" rx="4.500" ry="2.500" fill="#555"/></svg>
<span class="t" style="left:128.5px;top:652.9px;font-size:20px;line-height:23px;color:#2b2b2b;transform:scaleX(1.01);">Fillet Bellypan</span>
<svg class="b" style="left:294px;top:649.5px" width="12" height="28" viewBox="0 0 12 28" ><g fill="#222"><circle cx="6" cy="14" r="4.600"/><rect x="5" y="1" width="2" height="2.500"/><rect x="5" y="5" width="2" height="3.500"/><rect x="5" y="19.500" width="2" height="3.500"/><rect x="5" y="24.500" width="2" height="2.500"/></g></svg>
<svg class="b" style="left:96.5px;top:691px" width="24" height="24" viewBox="0 0 24 24" ><path d="M1,22.500 h22" stroke="#5b83c8" stroke-width="1.200"/><path d="M4.500,19.500 l2,-6 l10.500,-10.500 q1.500,-1 3,.5 q1.500,1.500 .5,3 l-10.500,10.500 z M6.500,13.500 l4,4 M15,5 l4,4" fill="#fff" stroke="#8d8d8d" stroke-width="1.400" stroke-linejoin="round"/></svg>
<span class="t" style="left:128.5px;top:691.9px;font-size:20px;line-height:23px;color:#8f8f8f;transform:scaleX(0.96);">Rivet Holes</span>
<svg class="b" style="left:96.5px;top:730px" width="25" height="25" viewBox="0 0 25 25" ><g opacity="1" stroke="#444" stroke-width="1.300" stroke-linejoin="round"><rect x="1" y="1" width="20" height="20" rx="3" fill="#fff"/><path d="M1,3.500 l3.500,3.500 v16 h17" fill="none"/><rect x="4.500" y="7" width="19" height="16.500" rx="1" fill="#fff"/><path d="M8.500,12.500 l2.500,-3 h11 v11 l-2.500,3 h-11 z" fill="#9a9a9a"/><path d="M8.500,12.500 h11 v11 M19.500,12.500 l2.500,-3" fill="none"/></g></svg>
<span class="t" style="left:128.5px;top:730.9px;font-size:20px;line-height:23px;color:#2b2b2b;transform:scaleX(0.96);">Rivet Holes</span>
<svg class="b" style="left:69px;top:772.5px" width="12" height="17" viewBox="0 0 12 17" ><path d="M2,1.500 L9,8.500 L2,15.500" fill="none" stroke="#555" stroke-width="3.200"/></svg>
<svg class="b" style="left:98.5px;top:771.5px" width="24" height="19" viewBox="0 0 24 19" ><path d="M1.200,2 h7.500 l2,2.600 h12 v13 h-21.500 z" fill="#fff" stroke="#555" stroke-width="1.500" stroke-linejoin="round"/></svg>
<span class="t" style="left:129.5px;top:769.9px;font-size:20px;line-height:23px;color:#2b2b2b;transform:scaleX(0.95);">Cross Tube Gusset (2)</span>
<div class="b" style="left:60.5px;top:802px;width:299.5px;height:35.5px;background:#e8edf2;border-bottom:1.500px solid #6fb0e4;box-sizing:border-box;"></div>
<svg class="b" style="left:66.5px;top:814px" width="17" height="12" viewBox="0 0 17 12" ><path d="M1.500,2 L8.500,9 L15.500,2" fill="none" stroke="#555" stroke-width="2.800"/></svg>
<svg class="b" style="left:98.5px;top:810.5px" width="24" height="19" viewBox="0 0 24 19" ><path d="M1.200,2 h7.500 l2,2.600 h12 v13 h-21.500 z" fill="#fff" stroke="#555" stroke-width="1.500" stroke-linejoin="round"/></svg>
<span class="t" style="left:129.5px;top:808.9px;font-size:20px;line-height:23px;color:#2b2b2b;transform:scaleX(0.98);">Battery Plate (11)</span>
<div class="b" style="left:60.5px;top:842px;width:299.5px;height:35px;background:#b3daf3;"></div>
<div class="b" style="left:74px;top:838px;width:1px;height:96px;background:#c9d3da;"></div>
<svg class="b" style="left:96.5px;top:847px" width="24" height="24" viewBox="0 0 24 24" ><path d="M1,22.500 h22" stroke="#5b83c8" stroke-width="1.200"/><path d="M4.500,19.500 l2,-6 l10.500,-10.500 q1.500,-1 3,.5 q1.500,1.500 .5,3 l-10.500,10.500 z M6.500,13.500 l4,4 M15,5 l4,4" fill="#fff" stroke="#5f7f96" stroke-width="1.400" stroke-linejoin="round"/></svg>
<span class="t" style="left:128.5px;top:847.9px;font-size:20px;line-height:23px;color:#587890;font-weight:700;transform:scaleX(0.99);">Battery Plate</span>
<svg class="b" style="left:96.5px;top:885.5px" width="25" height="25" viewBox="0 0 25 25" ><g opacity="0.55" stroke="#444" stroke-width="1.300" stroke-linejoin="round"><rect x="1" y="1" width="20" height="20" rx="3" fill="#fff"/><path d="M1,3.500 l3.500,3.500 v16 h17" fill="none"/><rect x="4.500" y="7" width="19" height="16.500" rx="1" fill="#fff"/><path d="M8.500,12.500 l2.500,-3 h11 v11 l-2.500,3 h-11 z" fill="#9a9a9a"/><path d="M8.500,12.500 h11 v11 M19.500,12.500 l2.500,-3" fill="none"/></g></svg>
<span class="t" style="left:129px;top:886.9px;font-size:20px;line-height:23px;color:#9a9a9a;font-style:italic;">Battery Plate</span>
<div class="b" style="left:61px;top:918px;width:299px;height:15.500px;overflow:hidden"><div class="b" style="left:0;top:0"><svg class="b" style="left:35px;top:8px" width="24" height="24" viewBox="0 0 24 24" ><path d="M2,22 v-10 q0,-10 11,-10 h9 v20 z" fill="#ddd" stroke="#bbb" stroke-width="1.300"/></svg><span class="t" style="left:68px;top:7.4px;font-size:20px;line-height:23px;color:#a5a5a5;font-style:italic;transform:scaleX(1.05);">Fillet 1</span></div></div>
<div class="b" style="left:60.5px;top:933.5px;width:299.5px;height:1px;background:#d0d0d0;"></div>
<svg class="b" style="left:66.5px;top:948px" width="17" height="12" viewBox="0 0 17 12" ><path d="M1.500,2 L8.500,9 L15.500,2" fill="none" stroke="#555" stroke-width="2.800"/></svg>
<span class="t" style="left:95px;top:942.9px;font-size:20px;line-height:23px;color:#2b2b2b;transform:scaleX(0.97);">Parts (8)</span>
<svg class="b" style="left:96.6px;top:979.5px" width="24" height="24" viewBox="0 0 24 24" ><g fill="#fff" stroke="#505050" stroke-width="1.400" stroke-linejoin="round"><path d="M11.400,1 H17.900 L23.100,6.200 V22.900 H5.900 L1,18.200 V11.400 H11.400 Z"/><path d="M11.400,1 L16.600,6.200 H23.100 M16.600,6.200 V16.400 H5.900 L1,11.400 M5.900,16.400 V22.900 M11.400,11.400 L16.600,16.400" fill="none" stroke-width="1.100"/></g></svg>
<span class="t" style="left:128.3px;top:981.3px;font-size:20px;line-height:23px;color:#2b2b2b;transform:scaleX(0.95);">Origin Cube</span>
<svg class="b" style="left:96.6px;top:1018.55px" width="24" height="24" viewBox="0 0 24 24" ><g fill="#fff" stroke="#505050" stroke-width="1.400" stroke-linejoin="round"><path d="M11.400,1 H17.900 L23.100,6.200 V22.900 H5.900 L1,18.200 V11.400 H11.400 Z"/><path d="M11.400,1 L16.600,6.200 H23.100 M16.600,6.200 V16.400 H5.900 L1,11.400 M5.900,16.400 V22.900 M11.400,11.400 L16.600,16.400" fill="none" stroke-width="1.100"/></g></svg>
<span class="t" style="left:128.3px;top:1020.35px;font-size:20px;line-height:23px;color:#2b2b2b;transform:scaleX(0.97);">Tube 2"x1"x17.5"</span>
<svg class="b" style="left:96.6px;top:1057.6px" width="24" height="24" viewBox="0 0 24 24" ><g fill="#fff" stroke="#505050" stroke-width="1.400" stroke-linejoin="round"><path d="M11.400,1 H17.900 L23.100,6.200 V22.900 H5.900 L1,18.200 V11.400 H11.400 Z"/><path d="M11.400,1 L16.600,6.200 H23.100 M16.600,6.200 V16.400 H5.900 L1,11.400 M5.900,16.400 V22.900 M11.400,11.400 L16.600,16.400" fill="none" stroke-width="1.100"/></g></svg>
<span class="t" style="left:128.3px;top:1059.4px;font-size:20px;line-height:23px;color:#2b2b2b;transform:scaleX(0.97);">Tube 2"x1"x17.5"</span>
<svg class="b" style="left:96.6px;top:1096.65px" width="24" height="24" viewBox="0 0 24 24" ><g fill="#fff" stroke="#505050" stroke-width="1.400" stroke-linejoin="round"><path d="M11.400,1 H17.900 L23.100,6.200 V22.900 H5.900 L1,18.200 V11.400 H11.400 Z"/><path d="M11.400,1 L16.600,6.200 H23.100 M16.600,6.200 V16.400 H5.900 L1,11.400 M5.900,16.400 V22.900 M11.400,11.400 L16.600,16.400" fill="none" stroke-width="1.100"/></g></svg>
<span class="t" style="left:128.3px;top:1098.45px;font-size:20px;line-height:23px;color:#2b2b2b;transform:scaleX(0.99);">Tube 2"x2"x24"</span>
<svg class="b" style="left:96.6px;top:1135.7px" width="24" height="24" viewBox="0 0 24 24" ><g fill="#fff" stroke="#505050" stroke-width="1.400" stroke-linejoin="round"><path d="M11.400,1 H17.900 L23.100,6.200 V22.900 H5.900 L1,18.200 V11.400 H11.400 Z"/><path d="M11.400,1 L16.600,6.200 H23.100 M16.600,6.200 V16.400 H5.900 L1,11.400 M5.900,16.400 V22.900 M11.400,11.400 L16.600,16.400" fill="none" stroke-width="1.100"/></g></svg>
<span class="t" style="left:128.3px;top:1137.5px;font-size:20px;line-height:23px;color:#2b2b2b;transform:scaleX(0.97);">Tube 2"x1"x17.5"</span>
<svg class="b" style="left:96.6px;top:1174.75px" width="24" height="24" viewBox="0 0 24 24" ><g fill="#fff" stroke="#505050" stroke-width="1.400" stroke-linejoin="round"><path d="M11.400,1 H17.900 L23.100,6.200 V22.900 H5.900 L1,18.200 V11.400 H11.400 Z"/><path d="M11.400,1 L16.600,6.200 H23.100 M16.600,6.200 V16.400 H5.900 L1,11.400 M5.900,16.400 V22.900 M11.400,11.400 L16.600,16.400" fill="none" stroke-width="1.100"/></g></svg>
<span class="t" style="left:128.3px;top:1176.55px;font-size:20px;line-height:23px;color:#2b2b2b;transform:scaleX(0.97);">Tube 2"x1"x17.5"</span>
<svg class="b" style="left:96.6px;top:1213.8px" width="24" height="24" viewBox="0 0 24 24" ><g fill="#fff" stroke="#505050" stroke-width="1.400" stroke-linejoin="round"><path d="M11.400,1 H17.900 L23.100,6.200 V22.900 H5.900 L1,18.200 V11.400 H11.400 Z"/><path d="M11.400,1 L16.600,6.200 H23.100 M16.600,6.200 V16.400 H5.900 L1,11.400 M5.900,16.400 V22.900 M11.400,11.400 L16.600,16.400" fill="none" stroke-width="1.100"/></g></svg>
<span class="t" style="left:128.3px;top:1215.6px;font-size:20px;line-height:23px;color:#2b2b2b;">Bellypan</span>
<svg class="b" style="left:96.6px;top:1252.85px" width="24" height="24" viewBox="0 0 24 24" ><g fill="#fff" stroke="#505050" stroke-width="1.400" stroke-linejoin="round"><path d="M11.400,1 H17.900 L23.100,6.200 V22.900 H5.900 L1,18.200 V11.400 H11.400 Z"/><path d="M11.400,1 L16.600,6.200 H23.100 M16.600,6.200 V16.400 H5.900 L1,11.400 M5.900,16.400 V22.900 M11.400,11.400 L16.600,16.400" fill="none" stroke-width="1.100"/></g></svg>
<span class="t" style="left:128.3px;top:1254.65px;font-size:20px;line-height:23px;color:#2b2b2b;transform:scaleX(0.97);">Crosstube Gusset</span>
<div class="b" style="left:368px;top:716.5px;width:48.5px;height:50px;background:#fff;border:1px solid #c9c9c9;border-left:none;box-sizing:border-box;"></div>
<svg class="b" style="left:379px;top:731px" width="28" height="26" viewBox="0 0 28 26" ><path d="M2,2.500 l3,3.500 l3,-3.500" fill="none" stroke="#333" stroke-width="1.500"/><path d="M5,8 v17 M10.500,4.500 h16 M10.500,10.500 h16 M10.500,16.500 h16 M10.500,22.500 h16" stroke="#333" stroke-width="1.500" fill="none"/></svg>
<div class="b" style="left:369.5px;top:120px;width:329.5px;height:326.5px;background:#fff;box-shadow:0 3px 12px rgba(0,0,0,.28),0 0 2px rgba(0,0,0,.2);"></div>
<span class="t" style="left:378.5px;top:129.43px;font-size:21px;line-height:24.15px;color:#2b2b2b;transform:scaleX(0.95);-webkit-text-stroke:.6px #2b2b2b;">Battery Plate</span>
<div class="b" style="left:615px;top:119px;width:41.7px;height:42.5px;background:#07940b;"></div>
<svg class="b" style="left:622px;top:127px" width="29" height="26" viewBox="0 0 29 26" ><path d="M3.500,13.500 l8,8 l14,-17" fill="none" stroke="#fff" stroke-width="4.600"/></svg>
<svg class="b" style="left:667.5px;top:130.5px" width="21" height="21" viewBox="0 0 21 21" ><path d="M2.500,2.500 l16,16 M18.500,2.500 l-16,16" stroke="#c0202c" stroke-width="4.400"/></svg>
<div class="b" style="left:369.5px;top:161px;width:329.5px;height:1px;background:#d9d9d9;"></div>
<div class="b" style="left:374px;top:169.5px;width:282px;height:64px;border:1px solid #d4d4d4;border-radius:3px;box-sizing:border-box;"></div>
<span class="t" style="left:383.5px;top:178.38px;font-size:15px;line-height:17.25px;color:#555;transform:scaleX(0.99);">Sketch plane</span>
<span class="t" style="left:384px;top:205.5px;font-size:20px;line-height:23px;color:#444;transform:scaleX(0.96);">Face of Tubes</span>
<svg class="b" style="left:626px;top:211px" width="13" height="13" viewBox="0 0 13 13" ><path d="M1.500,1.500 l10,10 M11.500,1.500 l-10,10" stroke="#444" stroke-width="1.500"/></svg>
<svg class="b" style="left:661px;top:174px" width="29" height="29" viewBox="0 0 29 29" ><circle cx="14.500" cy="14.500" r="12.800" fill="none" stroke="#333" stroke-width="1.400"/><circle cx="14.500" cy="14.500" r="10" fill="none" stroke="#333" stroke-width="1.400"/><path d="M14.500,6 v9 h8" fill="none" stroke="#333" stroke-width="1.600"/></svg>
<svg class="b" style="left:375px;top:253px" width="18" height="18" viewBox="0 0 18 18" ><rect x=".5" y=".5" width="17" height="17" rx="3.500" fill="#1d56b3"/><path d="M4,9.300 l3.500,3.600 l6.500,-7.500" fill="none" stroke="#fff" stroke-width="2.600"/></svg>
<span class="t" style="left:399.5px;top:252px;font-size:20px;line-height:23px;color:#444;">Disable imprinting</span>
<svg class="b" style="left:375px;top:294.5px" width="18" height="18" viewBox="0 0 18 18" ><rect x=".8" y=".8" width="16.400" height="16.400" rx="3.500" fill="#fff" stroke="#8a8a8a" stroke-width="1.200"/></svg>
<span class="t" style="left:399.5px;top:293.5px;font-size:20px;line-height:23px;color:#444;transform:scaleX(0.99);">Show constraints</span>
<svg class="b" style="left:375px;top:335.5px" width="18" height="18" viewBox="0 0 18 18" ><rect x=".8" y=".8" width="16.400" height="16.400" rx="3.500" fill="#fff" stroke="#8a8a8a" stroke-width="1.200"/></svg>
<span class="t" style="left:399.5px;top:334.5px;font-size:20px;line-height:23px;color:#444;transform:scaleX(0.97);">Show expressions</span>
<svg class="b" style="left:375px;top:376.5px" width="18" height="18" viewBox="0 0 18 18" ><rect x=".5" y=".5" width="17" height="17" rx="3.500" fill="#1d56b3"/><path d="M4,9.300 l3.500,3.600 l6.500,-7.500" fill="none" stroke="#fff" stroke-width="2.600"/></svg>
<span class="t" style="left:399.5px;top:375.5px;font-size:20px;line-height:23px;color:#444;transform:scaleX(0.99);">Show errors</span>
<div class="b" style="left:548px;top:410.5px;width:32.5px;height:32.5px;border:1px solid #8f8f8f;border-radius:4px;box-sizing:border-box;background:#fff;"></div>
<svg class="b" style="left:551px;top:413px" width="27" height="28" viewBox="0 0 27 28" ><circle cx="12.500" cy="12.500" r="11" fill="none" stroke="#222" stroke-width="1.500"/><path d="M4,20.500 h17" stroke="#1d56b3" stroke-width="1.500"/><path d="M6.500,18 l2,-6 l8,-8 l4,4 l-8,8 z M8.500,12 l4,4" fill="#fff" stroke="#222" stroke-width="1.400"/><path d="M20,20.500 l5,5.500" stroke="#222" stroke-width="3"/></svg>
<div class="b" style="left:587.5px;top:410.5px;width:72px;height:32.5px;border:1px solid #8f8f8f;border-radius:4px;box-sizing:border-box;background:#fff;"></div>
<span class="t" style="left:603.5px;top:417.07px;font-size:19px;line-height:21.85px;color:#333;transform:scaleX(0.95);">Final</span>
<svg class="b" style="left:672.5px;top:420.5px" width="20" height="20" viewBox="0 0 20 20" ><circle cx="10" cy="10" r="9.500" fill="#bdbdbd"/><text x="10" y="15.500" font-size="15" font-weight="700" text-anchor="middle" fill="#fff" font-family="Liberation Sans, sans-serif">?</text></svg>
<div class="b" style="left:59.5px;top:1394.5px;width:2498.5px;height:43.5px;background:#d8d8d8;"></div>
<div class="b" style="left:0px;top:1394.5px;width:59.5px;height:43.5px;background:#f7f7f7;"></div>
<svg class="b" style="left:15px;top:1409px" width="30" height="23" viewBox="0 0 30 23" ><path d="M1,1 h27 v12 h-6 q-2,-6 -8,-6 q-7,0 -8,8 h-5 z" fill="#2b2b2b"/><circle cx="14.500" cy="13.500" r="6" fill="none" stroke="#2b2b2b" stroke-width="2.400"/><path d="M19,18 l6,5" stroke="#2b2b2b" stroke-width="3"/></svg>
<div class="b" style="left:59.5px;top:1394.5px;width:51.5px;height:43.5px;background:#d2d2d2;"></div>
<svg class="b" style="left:74px;top:1405.5px" width="23" height="23" viewBox="0 0 23 23" ><path d="M11.500,0 v23 M0,11.500 h23" stroke="#4a4a4a" stroke-width="3.600"/></svg>
<svg class="b" style="left:111px;top:1394.5px" width="240" height="44" viewBox="0 0 240 44" ><path d="M0,0 h50 l13,22 l-13,22 h-50 z" fill="#e6e6e6"/><path d="M54,0 h167 l13,22 l-13,22 h-167 l13,-22 z" fill="#f2f2f2"/><path d="M50,0 l13,22 l-13,22 M221,0 l13,22 l-13,22" fill="none" stroke="#cfcfcf" stroke-width="1"/></svg>
<svg class="b" style="left:124px;top:1399.5px" width="28" height="27" viewBox="0 0 28 27" ><path d="M14,1 l13,12.500 h-3.500 v12.500 h-6.500 v-8.500 h-6 v8.500 h-6.500 v-12.500 h-3.500 z M19.500,2.500 h4 v5.500 l-4,-3.800 z" fill="#555"/></svg>
<svg class="b" style="left:189px;top:1403px" width="28" height="22" viewBox="0 0 28 22" ><path d="M1.300,2 h8.500 l2.300,3 h14.500 v15.500 h-25.300 z" fill="none" stroke="#555" stroke-width="1.600" stroke-linejoin="round"/></svg>
<span class="t" style="left:225.8px;top:1403.71px;font-size:20.5px;line-height:23.57px;color:#6e6e6e;transform:scaleX(1.03);">Drivetrain</span>
<div class="b" style="left:348.5px;top:1394.5px;width:300.5px;height:43px;background:#fff;border-bottom:3.400px solid #1d56b3;border-radius:0 0 7px 7px;box-sizing:border-box;"></div>
<svg class="b" style="left:366.5px;top:1401px" width="27" height="27" viewBox="0 0 27 27" ><g fill="#fff" stroke="#333" stroke-width="1.500" stroke-linejoin="round"><path d="M12.500,3.500 l3.500,-3 h7 l2.500,2.500 v20 l-3,3 h-10 z"/><path d="M12.500,3.500 h10 v22.500 M22.500,3.500 l3,-2.800" fill="none"/><path d="M1.500,10 l3,-2.500 h6.500 l2,2.500 v13.500 l-2.500,2.500 h-9 z"/><path d="M1.500,10 h9 v16 M10.500,10 l2.500,-2.500" fill="none"/></g></svg>
<span class="t" style="left:399.3px;top:1405.21px;font-size:20.5px;line-height:23.57px;color:#2b2b2b;transform:scaleX(1.02);">Drivetrain</span>
<div class="b" style="left:651.5px;top:1395.5px;width:299px;height:42px;background:#ececec;border-radius:0 0 7px 7px;"></div>
<svg class="b" style="left:668px;top:1401.5px" width="28" height="28" viewBox="0 0 28 28" ><g stroke="#333" stroke-width="1.5" stroke-linejoin="round"><path d="M1.500,1.500 h17.500 l7.500,6.500 v18.500 h-17.500 l-7.500,-7 z" fill="#fff"/><path d="M1.500,1.500 h17.500 l1,18 h-11 l-7.500,-7 z" fill="#858585" stroke="none"/><rect x="9" y="8" width="11" height="11.500" fill="#9e9e9e" stroke="none"/><path d="M1.500,1.500 l7.500,6.500 h17.500 M9,8 v18.500 M1.500,1.500 h17.500 l7.500,6.500 v18.500 h-17.500 l-7.500,-7 z" fill="none"/></g></svg>
<span class="t" style="left:701.5px;top:1405.21px;font-size:20.5px;line-height:23.57px;color:#6e6e6e;transform:scaleX(1.03);">Drivetrain Assembly</span>
<div class="b" style="left:955px;top:1395.5px;width:299px;height:42px;background:#ececec;border-radius:0 0 7px 7px;"></div>
<svg class="b" style="left:971.5px;top:1401.5px" width="27" height="27" viewBox="0 0 27 27" ><g fill="#fff" stroke="#333" stroke-width="1.500" stroke-linejoin="round"><path d="M12.500,3.500 l3.500,-3 h7 l2.500,2.500 v20 l-3,3 h-10 z"/><path d="M12.500,3.500 h10 v22.500 M22.500,3.500 l3,-2.800" fill="none"/><path d="M1.500,10 l3,-2.500 h6.500 l2,2.500 v13.500 l-2.500,2.500 h-9 z"/><path d="M1.500,10 h9 v16 M10.500,10 l2.500,-2.500" fill="none"/></g></svg>
<span class="t" style="left:1005px;top:1405.21px;font-size:20.5px;line-height:23.57px;color:#6e6e6e;transform:scaleX(1.01);">Bumpers</span>
<div class="b" style="left:1258.5px;top:1395.5px;width:299px;height:42px;background:#ececec;border-radius:0 0 7px 7px;"></div>
<svg class="b" style="left:1275px;top:1401.5px" width="28" height="28" viewBox="0 0 28 28" ><g stroke="#333" stroke-width="1.5" stroke-linejoin="round"><path d="M1.500,1.500 h17.500 l7.500,6.500 v18.500 h-17.500 l-7.500,-7 z" fill="#fff"/><path d="M1.500,1.500 h17.500 l1,18 h-11 l-7.500,-7 z" fill="#858585" stroke="none"/><rect x="9" y="8" width="11" height="11.500" fill="#9e9e9e" stroke="none"/><path d="M1.500,1.500 l7.500,6.500 h17.500 M9,8 v18.500 M1.500,1.500 h17.500 l7.500,6.500 v18.500 h-17.500 l-7.500,-7 z" fill="none"/></g></svg>
<span class="t" style="left:1307px;top:1405.21px;font-size:20.5px;line-height:23.57px;color:#6e6e6e;transform:scaleX(1.03);">Bumper Assembly</span>
<div class="b" style="left:2394.5px;top:1349.5px;width:164px;height:45.5px;background:#eeeeee;"></div>
<svg class="b" style="left:2411px;top:1364px" width="28" height="20" viewBox="0 0 28 20" ><g fill="none" stroke="#2b2b2b" stroke-width="1.500"><ellipse cx="18" cy="6" rx="8" ry="4.500"/><ellipse cx="18" cy="6" rx="3.500" ry="1.800"/><path d="M10,6 v8 q0,4 8,4 q8,0 8,-4 v-8 M1,11.500 h9 M1,18 h17 M1,11.500 v6.500"/><path d="M4,15 v3 M7,15 v3 M10,15.500 v2.500 M13,16 v2 M16,16 v2 M19,16 v2" stroke-width="1"/></g></svg>
<svg class="b" style="left:2462px;top:1362px" width="32" height="22" viewBox="0 0 32 22" ><g fill="none" stroke="#2b2b2b" stroke-width="1.600"><path d="M1,20 q0,-18.500 15,-18.500 q15,0 15,18.500 z"/><path d="M9,20 q0,-8.500 7,-8.500 q7,0 7,8.500"/><path d="M4,13 l2.500,1 M6.500,8 l2,2 M11,4.500 l1,2.500 M16,3 v3 M21,4.500 l-1,2.500 M25.500,8 l-2,2 M28,13 l-2.500,1" stroke-width="1"/></g></svg>
<svg class="b" style="left:2517px;top:1361px" width="26" height="24" viewBox="0 0 26 24" ><g fill="none" stroke="#2b2b2b" stroke-width="1.500"><path d="M13,1 v18 M4,3.500 h18 M1,14 l3.500,-10 l3.500,10 z M18,14 l3.500,-10 l3.500,10 z"/><path d="M2,20 h22 M2,23 h22" stroke-width="1.800"/></g></svg>
<div class="b" style="left:2512px;top:485px;width:46.5px;height:199.4px;background:#fff;border:1px solid #cfcfcf;border-right:none;box-sizing:border-box;"></div>
<div class="b" style="left:2513px;top:534.6px;width:45px;height:1px;background:#cfcfcf;"></div>
<div class="b" style="left:2513px;top:584.2px;width:45px;height:1px;background:#cfcfcf;"></div>
<div class="b" style="left:2513px;top:633.8px;width:45px;height:1px;background:#cfcfcf;"></div>
<div class="b" style="left:2512px;top:700px;width:46.5px;height:298.6px;background:#fff;border:1px solid #cfcfcf;border-right:none;box-sizing:border-box;"></div>
<div class="b" style="left:2513px;top:749.6px;width:45px;height:1px;background:#cfcfcf;"></div>
<div class="b" style="left:2513px;top:799.2px;width:45px;height:1px;background:#cfcfcf;"></div>
<div class="b" style="left:2513px;top:848.8px;width:45px;height:1px;background:#cfcfcf;"></div>
<div class="b" style="left:2513px;top:898.4px;width:45px;height:1px;background:#cfcfcf;"></div>
<div class="b" style="left:2513px;top:948px;width:45px;height:1px;background:#cfcfcf;"></div>
<svg class="b" style="left:2522px;top:497px" width="31" height="30" viewBox="0 0 31 30" ><path d="M4,19.500 l9.500,-16.500 q4,-2 8,1.500 l-7.500,15 z" fill="#6a6a6a"/><path d="M12,19.500 l9.500,-12 q4,0 6,4 l-7,8 z" fill="#8c8c8c"/><path d="M8,19.500 l6,-4 h6 l3,4 z" fill="#d0d0d0"/><rect x="1.500" y="19.500" width="28" height="8.500" rx="2" fill="#fafafa" stroke="#444" stroke-width="1.300"/><rect x="20.500" y="20.300" width="8.300" height="7" fill="#cfcfcf"/><path d="M11,19.500 v8.500 M20.500,19.500 v8.500" stroke="#555" stroke-width="1"/><circle cx="6" cy="23.800" r="1.700" fill="none" stroke="#444" stroke-width="1.100"/></svg>
<svg class="b" style="left:2522px;top:546px" width="31" height="31" viewBox="0 0 31 31" ><rect x="1" y="1" width="14.500" height="11.500" fill="#1d56b3"/><path d="M6,1 v11.500 M10.7,1 v11.500 M1,5 h14.500 M1,8.8 h14.500" stroke="#fff" stroke-opacity=".55" stroke-width="1"/><path d="M7,12.500 l11,-5 l11,5 v11.500 l-11,5.500 l-11,-5.500 z" fill="#fff" stroke="#333" stroke-width="1.500" stroke-linejoin="round"/><path d="M7,12.500 l11,5 l11,-5 M18,17.500 v12" fill="none" stroke="#333" stroke-width="1.500"/></svg>
<svg class="b" style="left:2522px;top:596px" width="31" height="31" viewBox="0 0 31 31" ><path d="M8.500,13 l8.500,-3.500 l8.500,3.500 v8 l-8.500,4 l-8.500,-4 z" fill="#fff" stroke="#444" stroke-width="1.400" stroke-linejoin="round"/><path d="M8.500,13 l8.500,3.500 l8.500,-3.500 M17,16.500 v8.500" fill="none" stroke="#444" stroke-width="1.400"/><rect x="1" y="1" width="14.500" height="11.500" fill="#444"/><path d="M6,1 v11.500 M10.7,1 v11.500 M1,5 h14.500 M1,8.8 h14.500" stroke="#fff" stroke-opacity=".55" stroke-width="1"/><path d="M7,13 q-3,0 -3,2.500 v2 q0,2 -2,2.500 q2,.5 2,2.500 v2 q0,2.500 3,2.500 M25,4.500 q3,0 3,3 v7 q0,2 2,2.500 q-2,.5 -2,2.500 v5 q0,3 -3,3" fill="none" stroke="#444" stroke-width="1.400"/></svg>
<svg class="b" style="left:2521px;top:646px" width="33" height="31" viewBox="0 0 33 31" ><rect x="1" y="1" width="14.500" height="11.500" fill="#444"/><path d="M6,1 v11.500 M10.7,1 v11.500 M1,5 h14.500 M1,8.8 h14.500" stroke="#fff" stroke-opacity=".55" stroke-width="1"/><path d="M4.500,11 q-5,9 0,19 M28.500,5 q5,12.500 0,25" fill="none" stroke="#222" stroke-width="2.600"/><text x="17.500" y="27" font-size="27" font-style="italic" font-weight="700" text-anchor="middle" fill="#222" font-family="Liberation Serif, serif">x</text></svg>
<svg class="b" style="left:2519.5px;top:707px" width="35" height="35" viewBox="0 0 35 35" ><rect width="35" height="35" rx="4" fill="#e2e2e2"/><rect x="3" y="3.500" width="29.500" height="28.500" fill="#1663de" stroke="#0c0c0c" stroke-width="2"/><text x="17.700" y="27" font-size="25" font-weight="700" text-anchor="middle" fill="#fff" font-family="Liberation Serif, serif" textLength="25.500" lengthAdjust="spacingAndGlyphs">MK</text></svg>
<svg class="b" style="left:2519.5px;top:756.6px" width="35" height="35" viewBox="0 0 35 35" ><rect width="35" height="35" rx="5" fill="#dcdcdc"/><g transform="rotate(-4 17.500 21)"><rect x="3.500" y="13" width="28" height="16.500" rx="2.500" fill="#2b2f36"/><rect x="1.500" y="18" width="3" height="6" fill="#2b2f36"/><rect x="30.500" y="18" width="3" height="6" fill="#2b2f36"/><circle cx="12" cy="19.500" r="4" fill="#fff" stroke="#2b78d0" stroke-width="2"/><circle cx="23" cy="19.500" r="4" fill="#fff" stroke="#2b78d0" stroke-width="2"/><path d="M14,26 q5,2.500 9,-1.500" stroke="#fff" stroke-width="1.400" fill="none"/><path d="M17.500,13 v-5" stroke="#2b2f36" stroke-width="1.800"/><circle cx="17.500" cy="7" r="2.200" fill="#2b2f36"/><path d="M12,4 q-2,3 0,6 M23,4 q2,3 0,6 M9.500,3 q-3,4 0,8 M25.500,3 q3,4 0,8" stroke="#2b78d0" stroke-width="1" fill="none"/></g></svg>
<svg class="b" style="left:2519.5px;top:806.2px" width="35" height="35" viewBox="0 0 35 35" ><rect x="1.500" y="1.500" width="32" height="32" rx="4" fill="#fff" stroke="#dadada" stroke-width="3"/><path d="M4.500,17.500 h8 M8,13.500 l-4,4 l4,4" fill="none" stroke="#222" stroke-width="1.700"/><path d="M17,7.500 q-3.500,0 -3.500,3.500 v3.500 q0,2.500 -2,3 q2,.5 2,3 v3.500 q0,3.500 3.500,3.500" fill="none" stroke="#222" stroke-width="1.700"/><path d="M18,14 l6.500,-3 l6.500,3 v7.500 l-6.500,3 l-6.500,-3 z M18,14 l6.500,3 l6.500,-3 M24.500,17 v7.500" fill="#fff" stroke="#222" stroke-width="1.300" stroke-linejoin="round"/></svg>
<svg class="b" style="left:2519.5px;top:855.8px" width="35" height="35" viewBox="0 0 35 35" ><rect width="35" height="35" rx="5" fill="#dedede"/><path d="M17.500,5.500 l13.500,25 h-9 q0,-5.500 -5,-7.500 q-4.500,-1.500 -5,-5.500 z" fill="#1da1d8"/><path d="M10.500,19.500 q1,3.500 5.500,5 q3.500,1.500 3.500,6 h-16 z" fill="#1da1d8"/></svg>
<svg class="b" style="left:2519.5px;top:905.4px" width="35" height="35" viewBox="0 0 35 35" ><rect width="35" height="35" rx="5" fill="#d8d8d8"/><rect x="3" y="3" width="29" height="29" rx="2" fill="#4cae4c"/><path d="M6,9 q6,-2 10.500,1 v15 q-4.500,-2.500 -10.500,-1 z M29,9 q-6,-2 -10.500,1 v15 q4.500,-2.500 10.500,-1 z" fill="#fff"/></svg>
<svg class="b" style="left:2519.5px;top:955px" width="35" height="35" viewBox="0 0 35 35" ><rect width="35" height="35" rx="4" fill="#e2e2e2"/><rect x="3" y="3.500" width="29.500" height="28.500" fill="#1663de" stroke="#0c0c0c" stroke-width="2"/><path d="M6.500,10 q6,-2 10.500,1 v14 q-4.500,-2.500 -10.500,-1 z M28.500,10 q-6,-2 -10.500,1 v14 q4.500,-2.500 10.500,-1 z" fill="#fff" stroke="#0b0b0b" stroke-width="1.500"/></svg>
<svg class="b" style="left:2300px;top:118px" width="258" height="260" viewBox="0 0 258 260" >
<polygon points="126,18.500 137,32.500 115,32.500" fill="#e3e7eb"/>
<polygon points="14,131 28.200,120.500 28.200,141.500" fill="#e3e7eb"/>
<polygon points="238.500,131 224,120.500 224,141.500" fill="#e3e7eb"/>
<polygon points="126,243 136.500,229.500 115.500,229.500" fill="#e3e7eb"/>
<path d="M96,36 Q68,45 53,63" fill="none" stroke="#e3e7eb" stroke-width="9.500"/><polygon points="46,52 62,63.500 46,70" fill="#e3e7eb"/>
<path d="M156,36 Q184,45 199,63" fill="none" stroke="#e3e7eb" stroke-width="9.500"/><polygon points="206,52 190,63.500 206,70" fill="#e3e7eb"/>
<path d="M99,88 H153 q1,13 15,15 V158 q-14,2 -15,15 H99 q-1,-13 -15,-15 V103 q14,-2 15,-15 z" fill="#e3e7eb"/>
<rect x="92" y="97" width="67.500" height="67.500" rx="13" fill="#fefefe"/>
<path d="M80.500,88.500 V177 H168" fill="none" stroke="#e25050" stroke-width="1.600"/>
<path d="M80.500,88.500 V177" fill="none" stroke="#3f9f42" stroke-width="1.600"/>
<text x="80" y="78.500" font-size="18" text-anchor="middle" fill="#5bb35e" font-family="Liberation Sans, sans-serif" textLength="10.500" lengthAdjust="spacingAndGlyphs" stroke="#5bb35e" stroke-width=".4">Y</text>
<text x="183.500" y="182" font-size="18" text-anchor="middle" fill="#e25555" font-family="Liberation Sans, sans-serif" textLength="10.500" lengthAdjust="spacingAndGlyphs" stroke="#e25555" stroke-width=".4">X</text>
<text x="125.800" y="136.500" font-size="18" text-anchor="middle" fill="#333" font-family="Liberation Sans, sans-serif" textLength="29" lengthAdjust="spacingAndGlyphs" stroke="#333" stroke-width=".4">Top</text>
</svg>
<svg class="b" style="left:2477px;top:332px" width="30" height="31" viewBox="0 0 30 31" ><path d="M15,2 l13,5 v15 l-13,7 l-13,-7 v-15 z" fill="#fff" stroke="#222" stroke-width="1.400" stroke-linejoin="round"/><path d="M2,7 l13,6 v16 l-13,-7 z" fill="#8a8a8a"/><path d="M15,13 l13,-6 v15 l-13,7 z" fill="#c9c9c9"/><path d="M15,2 l13,5 v15 l-13,7 l-13,-7 v-15 z M2,7 l13,6 l13,-6 M15,13 v16" fill="none" stroke="#222" stroke-width="1.400" stroke-linejoin="round"/></svg>
<svg class="b" style="left:2517.5px;top:344px" width="13" height="7" viewBox="0 0 13 7" ><polygon points="0,0 13,0 6.500,7" fill="#222"/></svg>
</body></html>
